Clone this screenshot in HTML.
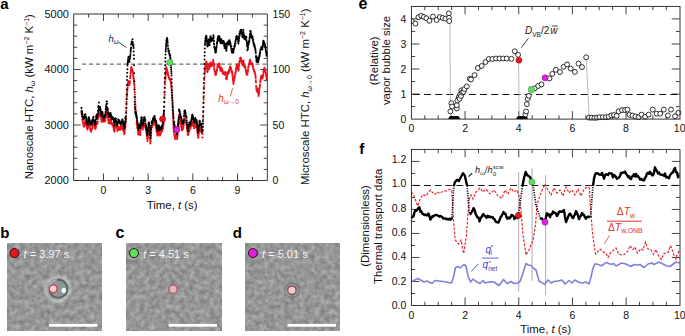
<!DOCTYPE html>
<html><head><meta charset="utf-8"><style>
html,body{margin:0;padding:0;background:#fff;}
svg{display:block;font-family:"Liberation Sans", sans-serif;}
</style></head><body>
<svg width="685" height="336" viewBox="0 0 685 336">
<rect width="685" height="336" fill="#fff"/>
<line x1="88.59" y1="180.5" x2="88.59" y2="176.9" stroke="#222" stroke-width="0.85" />
<line x1="88.59" y1="14" x2="88.59" y2="17.6" stroke="#222" stroke-width="0.85" />
<line x1="103.48" y1="180.5" x2="103.48" y2="173.5" stroke="#222" stroke-width="0.85" />
<line x1="103.48" y1="14" x2="103.48" y2="21" stroke="#222" stroke-width="0.85" />
<line x1="118.38" y1="180.5" x2="118.38" y2="176.9" stroke="#222" stroke-width="0.85" />
<line x1="118.38" y1="14" x2="118.38" y2="17.6" stroke="#222" stroke-width="0.85" />
<line x1="133.27" y1="180.5" x2="133.27" y2="176.9" stroke="#222" stroke-width="0.85" />
<line x1="133.27" y1="14" x2="133.27" y2="17.6" stroke="#222" stroke-width="0.85" />
<line x1="148.16" y1="180.5" x2="148.16" y2="173.5" stroke="#222" stroke-width="0.85" />
<line x1="148.16" y1="14" x2="148.16" y2="21" stroke="#222" stroke-width="0.85" />
<line x1="163.05" y1="180.5" x2="163.05" y2="176.9" stroke="#222" stroke-width="0.85" />
<line x1="163.05" y1="14" x2="163.05" y2="17.6" stroke="#222" stroke-width="0.85" />
<line x1="177.95" y1="180.5" x2="177.95" y2="176.9" stroke="#222" stroke-width="0.85" />
<line x1="177.95" y1="14" x2="177.95" y2="17.6" stroke="#222" stroke-width="0.85" />
<line x1="192.84" y1="180.5" x2="192.84" y2="173.5" stroke="#222" stroke-width="0.85" />
<line x1="192.84" y1="14" x2="192.84" y2="21" stroke="#222" stroke-width="0.85" />
<line x1="207.73" y1="180.5" x2="207.73" y2="176.9" stroke="#222" stroke-width="0.85" />
<line x1="207.73" y1="14" x2="207.73" y2="17.6" stroke="#222" stroke-width="0.85" />
<line x1="222.62" y1="180.5" x2="222.62" y2="176.9" stroke="#222" stroke-width="0.85" />
<line x1="222.62" y1="14" x2="222.62" y2="17.6" stroke="#222" stroke-width="0.85" />
<line x1="237.52" y1="180.5" x2="237.52" y2="173.5" stroke="#222" stroke-width="0.85" />
<line x1="237.52" y1="14" x2="237.52" y2="21" stroke="#222" stroke-width="0.85" />
<line x1="252.41" y1="180.5" x2="252.41" y2="176.9" stroke="#222" stroke-width="0.85" />
<line x1="252.41" y1="14" x2="252.41" y2="17.6" stroke="#222" stroke-width="0.85" />
<line x1="73.7" y1="169.4" x2="77.3" y2="169.4" stroke="#222" stroke-width="0.85" />
<line x1="73.7" y1="158.3" x2="77.3" y2="158.3" stroke="#222" stroke-width="0.85" />
<line x1="73.7" y1="147.2" x2="77.3" y2="147.2" stroke="#222" stroke-width="0.85" />
<line x1="73.7" y1="136.1" x2="77.3" y2="136.1" stroke="#222" stroke-width="0.85" />
<line x1="73.7" y1="125" x2="80.7" y2="125" stroke="#222" stroke-width="0.85" />
<line x1="73.7" y1="113.9" x2="77.3" y2="113.9" stroke="#222" stroke-width="0.85" />
<line x1="73.7" y1="102.8" x2="77.3" y2="102.8" stroke="#222" stroke-width="0.85" />
<line x1="73.7" y1="91.7" x2="77.3" y2="91.7" stroke="#222" stroke-width="0.85" />
<line x1="73.7" y1="80.6" x2="77.3" y2="80.6" stroke="#222" stroke-width="0.85" />
<line x1="73.7" y1="69.5" x2="80.7" y2="69.5" stroke="#222" stroke-width="0.85" />
<line x1="73.7" y1="58.4" x2="77.3" y2="58.4" stroke="#222" stroke-width="0.85" />
<line x1="73.7" y1="47.3" x2="77.3" y2="47.3" stroke="#222" stroke-width="0.85" />
<line x1="73.7" y1="36.2" x2="77.3" y2="36.2" stroke="#222" stroke-width="0.85" />
<line x1="73.7" y1="25.1" x2="77.3" y2="25.1" stroke="#222" stroke-width="0.85" />
<line x1="267.3" y1="169.4" x2="263.7" y2="169.4" stroke="#222" stroke-width="0.85" />
<line x1="267.3" y1="158.3" x2="263.7" y2="158.3" stroke="#222" stroke-width="0.85" />
<line x1="267.3" y1="147.2" x2="263.7" y2="147.2" stroke="#222" stroke-width="0.85" />
<line x1="267.3" y1="136.1" x2="263.7" y2="136.1" stroke="#222" stroke-width="0.85" />
<line x1="267.3" y1="125" x2="260.3" y2="125" stroke="#222" stroke-width="0.85" />
<line x1="267.3" y1="113.9" x2="263.7" y2="113.9" stroke="#222" stroke-width="0.85" />
<line x1="267.3" y1="102.8" x2="263.7" y2="102.8" stroke="#222" stroke-width="0.85" />
<line x1="267.3" y1="91.7" x2="263.7" y2="91.7" stroke="#222" stroke-width="0.85" />
<line x1="267.3" y1="80.6" x2="263.7" y2="80.6" stroke="#222" stroke-width="0.85" />
<line x1="267.3" y1="69.5" x2="260.3" y2="69.5" stroke="#222" stroke-width="0.85" />
<line x1="267.3" y1="58.4" x2="263.7" y2="58.4" stroke="#222" stroke-width="0.85" />
<line x1="267.3" y1="47.3" x2="263.7" y2="47.3" stroke="#222" stroke-width="0.85" />
<line x1="267.3" y1="36.2" x2="263.7" y2="36.2" stroke="#222" stroke-width="0.85" />
<line x1="267.3" y1="25.1" x2="263.7" y2="25.1" stroke="#222" stroke-width="0.85" />
<rect x="73.7" y="14.0" width="193.6" height="166.5" fill="none" stroke="#222" stroke-width="0.9"/>
<text x="68.9" y="184.3" font-size="10.5" text-anchor="end" fill="#111" textLength="24.4" lengthAdjust="spacingAndGlyphs">2000</text>
<text x="68.9" y="128.8" font-size="10.5" text-anchor="end" fill="#111" textLength="24.4" lengthAdjust="spacingAndGlyphs">3000</text>
<text x="68.9" y="73.3" font-size="10.5" text-anchor="end" fill="#111" textLength="24.4" lengthAdjust="spacingAndGlyphs">4000</text>
<text x="68.9" y="17.8" font-size="10.5" text-anchor="end" fill="#111" textLength="24.4" lengthAdjust="spacingAndGlyphs">5000</text>
<text x="272.6" y="184.3" font-size="10.5" text-anchor="start" fill="#111" >0</text>
<text x="272.6" y="128.8" font-size="10.5" text-anchor="start" fill="#111" >50</text>
<text x="272.6" y="73.3" font-size="10.5" text-anchor="start" fill="#111" >100</text>
<text x="272.6" y="17.8" font-size="10.5" text-anchor="start" fill="#111" >150</text>
<text x="103.48" y="193.6" font-size="10.5" text-anchor="middle" fill="#111" >0</text>
<text x="148.16" y="193.6" font-size="10.5" text-anchor="middle" fill="#111" >3</text>
<text x="192.84" y="193.6" font-size="10.5" text-anchor="middle" fill="#111" >6</text>
<text x="237.52" y="193.6" font-size="10.5" text-anchor="middle" fill="#111" >9</text>
<text x="172.2" y="209.4" font-size="11.4" text-anchor="middle" fill="#111" >Time, <tspan font-style="italic">t</tspan> (s)</text>
<text transform="translate(32.6,96.7) rotate(-90)" font-size="11.4" text-anchor="middle" fill="#111">Nanoscale HTC, <tspan font-style="italic">h</tspan><tspan font-size="7" dy="2.5">ω</tspan><tspan dy="-2.5"> (kW m</tspan><tspan font-size="7" dy="-4">−2</tspan><tspan dy="4"> K</tspan><tspan font-size="7" dy="-4">−1</tspan><tspan dy="4">)</tspan></text>
<text transform="translate(309,96.8) rotate(-90)" font-size="11.4" text-anchor="middle" fill="#111">Microscale HTC, <tspan font-style="italic">h</tspan><tspan font-size="7" dy="2.5">ω→0</tspan><tspan dy="-2.5"> (kW m</tspan><tspan font-size="7" dy="-4">−2</tspan><tspan dy="4"> K</tspan><tspan font-size="7" dy="-4">−1</tspan><tspan dy="4">)</tspan></text>
<line x1="82" y1="64.2" x2="267.3" y2="64.2" stroke="#707070" stroke-width="1.3" stroke-dasharray="4.2 2.74"/>
<path d="M81.4 112.09h0M81.52 113.46h0M81.64 114.09h0M81.76 113.63h0M81.88 116.16h0M82 116.9h0M82.12 117.08h0M82.24 117.32h0M82.36 119.78h0M82.48 119.82h0M82.6 120.76h0M82.72 121.47h0M82.84 121.03h0M82.96 122.55h0M83.08 122.63h0M83.2 123.45h0M83.32 124.16h0M83.44 125.04h0M83.56 126.36h0M83.68 126.03h0M83.8 126.12h0M83.92 126.31h0M84.04 126.72h0M84.16 125.58h0M84.28 125.42h0M84.4 125.29h0M84.52 124.26h0M84.64 123.82h0M84.76 122.81h0M84.88 123.66h0M85 122.54h0M85.12 121.58h0M85.24 120.84h0M85.36 121.93h0M85.48 121.07h0M85.6 121.26h0M85.72 121.93h0M85.84 122.37h0M85.96 123.47h0M86.08 123.05h0M86.2 124.76h0M86.32 123.41h0M86.44 124.81h0M86.56 124.37h0M86.68 126.71h0M86.8 126.09h0M86.92 126.92h0M87.04 128.17h0M87.16 129.04h0M87.28 128.28h0M87.4 129.41h0M87.52 128.43h0M87.64 129h0M87.76 128.5h0M87.88 128h0M88 127.34h0M88.12 126.76h0M88.24 125.78h0M88.36 125.79h0M88.48 125.99h0M88.6 123.72h0M88.72 124.6h0M88.84 124.22h0M88.96 124.56h0M89.08 123.49h0M89.2 123.77h0M89.32 123.35h0M89.44 124.65h0M89.56 124.92h0M89.68 125.49h0M89.8 126.54h0M89.92 126.9h0M90.04 126.84h0M90.16 128.86h0M90.28 129.4h0M90.4 129.86h0M90.52 130.84h0M90.64 131.11h0M90.76 129.86h0M90.88 130.19h0M91 131.72h0M91.12 131.54h0M91.24 130.14h0M91.36 129.77h0M91.48 129.97h0M91.6 129.91h0M91.72 129.11h0M91.84 129.83h0M91.96 128.57h0M92.08 128.14h0M92.2 128.95h0M92.32 127.52h0M92.44 127.33h0M92.56 127.02h0M92.68 126.4h0M92.8 124.99h0M92.92 124.49h0M93.04 123.31h0M93.16 124.41h0M93.28 123.39h0M93.4 121.98h0M93.52 122.91h0M93.64 123.61h0M93.76 123.74h0M93.88 124.82h0M94 124.82h0M94.12 123.94h0M94.24 124.48h0M94.36 124.04h0M94.48 125.48h0M94.6 126.07h0M94.72 128.25h0M94.84 127.33h0M94.96 126.66h0M95.08 128h0M95.2 128.87h0M95.32 128.44h0M95.44 128.77h0M95.56 128.57h0M95.68 128.49h0M95.8 127.41h0M95.92 126.14h0M96.04 126.31h0M96.16 124.68h0M96.28 123.88h0M96.4 122.51h0M96.52 122.97h0M96.64 123.84h0M96.76 122.49h0M96.88 123.42h0M97 123.9h0M97.12 123.22h0M97.24 123.57h0M97.36 122.74h0M97.48 123.67h0M97.6 122.76h0M97.72 121.46h0M97.84 119.28h0M97.96 118.3h0M98.08 118.12h0M98.2 117.15h0M98.32 114.91h0M98.44 114.37h0M98.56 116.8h0M98.68 115.5h0M98.8 114h0M98.92 112.5h0M99.04 108.09h0M99.16 113.1h0M99.28 114.3h0M99.4 115.5h0M99.52 113.44h0M99.64 114.72h0M99.76 114.19h0M99.88 113.23h0M100 115.22h0M100.12 114.9h0M100.24 114.6h0M100.36 116.23h0M100.48 115.59h0M100.6 115.6h0M100.72 116.61h0M100.84 116.43h0M100.96 117.25h0M101.08 118.74h0M101.2 118.97h0M101.32 119.84h0M101.44 121.62h0M101.56 121.08h0M101.68 120.98h0M101.8 120.76h0M101.92 120.67h0M102.04 121.12h0M102.16 119.95h0M102.28 120.64h0M102.4 118.46h0M102.52 119.21h0M102.64 118.87h0M102.76 119.83h0M102.88 120.69h0M103 121.58h0M103.12 120.65h0M103.24 121.39h0M103.36 121.51h0M103.48 121.26h0M103.6 120.9h0M103.72 121.58h0M103.84 120.43h0M103.96 121.46h0M104.08 121.25h0M104.2 120.64h0M104.32 120.23h0M104.44 119.78h0M104.56 121.46h0M104.68 119.25h0M104.8 120.72h0M104.92 120.14h0M105.04 119.55h0M105.16 119.07h0M105.28 120.38h0M105.4 120.79h0M105.52 118.47h0M105.64 117.83h0M105.76 117.61h0M105.88 116.15h0M106 116.12h0M106.12 113.48h0M106.24 112.67h0M106.36 110.12h0M106.48 111.27h0M106.6 114.83h0M106.72 113.83h0M106.84 112.83h0M106.96 107.78h0M107.08 109.81h0M107.2 113.17h0M107.32 114.17h0M107.44 115.17h0M107.56 115.5h0M107.68 115.59h0M107.8 117.14h0M107.92 117.72h0M108.04 118.11h0M108.16 119.23h0M108.28 120.08h0M108.4 120.4h0M108.52 122.44h0M108.64 121.54h0M108.76 123.45h0M108.88 123.41h0M109 122.87h0M109.12 122.55h0M109.24 122.96h0M109.36 123.47h0M109.48 123.33h0M109.6 122.56h0M109.72 122.48h0M109.84 121.05h0M109.96 121.02h0M110.08 119.47h0M110.2 120.41h0M110.32 119.59h0M110.44 119.09h0M110.56 120.46h0M110.68 120.6h0M110.8 118.92h0M110.92 121.06h0M111.04 120.59h0M111.16 122.52h0M111.28 123.8h0M111.4 122.62h0M111.52 123.13h0M111.64 123.09h0M111.76 123.61h0M111.88 123.94h0M112 124.48h0M112.12 123.27h0M112.24 124.97h0M112.36 123.62h0M112.48 124.65h0M112.6 125.55h0M112.72 125.61h0M112.84 124.94h0M112.96 125.41h0M113.08 125.76h0M113.2 126.14h0M113.32 127h0M113.44 125.85h0M113.56 127.6h0M113.68 128.38h0M113.8 129.04h0M113.92 129.63h0M114.04 130.7h0M114.16 130.51h0M114.28 131.17h0M114.4 131.43h0M114.52 131.38h0M114.64 128.38h0M114.76 129.5h0M114.88 127.79h0M115 126.99h0M115.12 125.89h0M115.24 124.64h0M115.36 124.79h0M115.48 124.44h0M115.6 125.28h0M115.72 124.22h0M115.84 126.09h0M115.96 125.52h0M116.08 125.33h0M116.2 125.18h0M116.32 125.25h0M116.44 125.19h0M116.56 125.89h0M116.68 126.76h0M116.8 127.18h0M116.92 126.97h0M117.04 128.19h0M117.16 128.32h0M117.28 129.46h0M117.4 130.98h0M117.52 129.97h0M117.64 129.13h0M117.76 128.07h0M117.88 127.88h0M118 127.38h0M118.12 128.49h0M118.24 127.26h0M118.36 127.41h0M118.48 127.09h0M118.6 127.81h0M118.72 128.89h0M118.84 127.94h0M118.96 128.44h0M119.08 128.45h0M119.2 129.49h0M119.32 128.33h0M119.44 128.21h0M119.56 127.96h0M119.68 127.84h0M119.8 128.86h0M119.92 130.02h0M120.04 127.77h0M120.16 128.84h0M120.28 128.31h0M120.4 127.4h0M120.52 127.88h0M120.64 127.89h0M120.76 127.6h0M120.88 129.15h0M121 126.83h0M121.12 128.22h0M121.24 128.2h0M121.36 127.67h0M121.48 127.85h0M121.6 127.9h0M121.72 127.11h0M121.84 127.1h0M121.96 127.11h0M122.08 125.31h0M122.2 127.25h0M122.32 127.57h0M122.44 126.91h0M122.56 127.62h0M122.68 126.84h0M122.8 128.3h0M122.92 128.57h0M123.04 129.29h0M123.16 130.61h0M123.28 129.93h0M123.4 130.73h0M123.52 130.04h0M123.64 131.47h0M123.76 132h0M123.88 131.91h0M124 132.28h0M124.12 134.22h0M124.24 132.75h0M124.36 133.21h0M124.48 132.78h0M124.6 132.96h0M124.72 132.47h0M124.84 130.39h0M124.96 128.73h0M125.08 127.44h0M125.2 126.65h0M125.32 123.78h0M125.44 124.09h0M125.56 124.11h0M125.68 126.7h0M125.8 122h0M125.92 119.12h0M126.04 116.24h0M126.16 113.36h0M126.28 110.48h0M126.4 107.6h0M126.52 104.72h0M126.64 101.84h0M126.76 98.96h0M126.88 96.89h0M127 95.23h0M127.12 93.57h0M127.24 91.9h0M127.36 90.24h0M127.48 88.58h0M127.6 87.74h0M127.72 85.84h0M127.84 85.23h0M127.96 84.57h0M128.08 82.88h0M128.2 82.06h0M128.32 82h0M128.44 81.4h0M128.56 81.35h0M128.68 82.62h0M128.8 82.62h0M128.92 83.79h0M129.04 83.6h0M129.16 83.91h0M129.28 84.65h0M129.4 84.96h0M129.52 83.86h0M129.64 83.1h0M129.76 82.87h0M129.88 81.89h0M130 81.36h0M130.12 78.32h0M130.24 77.85h0M130.36 76.58h0M130.48 75.52h0M130.6 73.66h0M130.72 72.14h0M130.84 71.47h0M130.96 69.75h0M131.08 68.09h0M131.2 68.99h0M131.32 68.18h0M131.44 66.99h0M131.56 68.28h0M131.68 67.79h0M131.8 69.36h0M131.92 69h0M132.04 69.1h0M132.16 69.73h0M132.28 69.78h0M132.4 70.64h0M132.52 70.83h0M132.64 71.76h0M132.76 72.42h0M132.88 71.57h0M133 74.84h0M133.12 74.66h0M133.24 76.96h0M133.36 78.51h0M133.48 76.35h0M133.6 77.48h0M133.72 78.66h0M133.84 79.83h0M133.96 81.01h0M134.08 82.18h0M134.2 83.36h0M134.32 84.54h0M134.44 85.71h0M134.56 87.47h0M134.68 89.82h0M134.8 92.17h0M134.92 94.52h0M135.04 96.87h0M135.16 99.22h0M135.28 101.6h0M135.4 104h0M135.52 106.4h0M135.64 108.8h0M135.76 110.56h0M135.88 111.69h0M136 112.81h0M136.12 113.94h0M136.24 115.06h0M136.36 116.19h0M136.48 117.31h0M136.6 121.92h0M136.72 124.14h0M136.84 124.63h0M136.96 124.8h0M137.08 125.63h0M137.2 127.39h0M137.32 128.08h0M137.44 128.31h0M137.56 128.38h0M137.68 128.84h0M137.8 130.13h0M137.92 130.08h0M138.04 132.11h0M138.16 132.89h0M138.28 134.52h0M138.4 133.97h0M138.52 132.77h0M138.64 132.32h0M138.76 130.56h0M138.88 132.07h0M139 132.12h0M139.12 132.6h0M139.24 132.18h0M139.36 131.96h0M139.48 132.18h0M139.6 133.21h0M139.72 134.46h0M139.84 133.72h0M139.96 134.73h0M140.08 133.87h0M140.2 134.94h0M140.32 134.02h0M140.44 132.8h0M140.56 130.4h0M140.68 129.99h0M140.8 128.51h0M140.92 127.47h0M141.04 126.07h0M141.16 125.27h0M141.28 123.57h0M141.4 123.22h0M141.52 122.4h0M141.64 122.81h0M141.76 123.65h0M141.88 124.18h0M142 125.67h0M142.12 125.75h0M142.24 126.82h0M142.36 127.14h0M142.48 126.8h0M142.6 128.56h0M142.72 127.75h0M142.84 129.15h0M142.96 129.36h0M143.08 127.76h0M143.2 127.47h0M143.32 127.01h0M143.44 126.32h0M143.56 126.01h0M143.68 127.07h0M143.8 126.4h0M143.92 126.25h0M144.04 125.25h0M144.16 125.17h0M144.28 124.02h0M144.4 123.93h0M144.52 123.86h0M144.64 123.86h0M144.76 123.87h0M144.88 123.82h0M145 124.89h0M145.12 125.33h0M145.24 125.39h0M145.36 125.5h0M145.48 126.87h0M145.6 128.68h0M145.72 127.66h0M145.84 128.7h0M145.96 129.37h0M146.08 128.37h0M146.2 130.79h0M146.32 131.11h0M146.44 133.24h0M146.56 133.27h0M146.68 133.96h0M146.8 135.31h0M146.92 136.55h0M147.04 137.12h0M147.16 138.43h0M147.28 138.66h0M147.4 140.35h0M147.52 140.89h0M147.64 140.66h0M147.76 138.68h0M147.88 136.92h0M148 135.98h0M148.12 134.38h0M148.24 133.27h0M148.36 131.43h0M148.48 129.86h0M148.6 129.57h0M148.72 129.01h0M148.84 128.56h0M148.96 127.99h0M149.08 127.93h0M149.2 128.19h0M149.32 130.1h0M149.44 130.45h0M149.56 133.06h0M149.68 134.37h0M149.8 134.71h0M149.92 137.49h0M150.04 138.95h0M150.16 139.84h0M150.28 142.13h0M150.4 143.47h0M150.52 141.2h0M150.64 140.72h0M150.76 138.55h0M150.88 136.72h0M151 135.21h0M151.12 132.4h0M151.24 130.65h0M151.36 128.69h0M151.48 127.83h0M151.6 127.76h0M151.72 126.62h0M151.84 126.54h0M151.96 127.18h0M152.08 126.63h0M152.2 126.83h0M152.32 125.39h0M152.44 125.85h0M152.56 125.53h0M152.68 125.42h0M152.8 124.6h0M152.92 125.05h0M153.04 124.01h0M153.16 123.61h0M153.28 123.16h0M153.4 123.13h0M153.52 122.3h0M153.64 123.09h0M153.76 122.53h0M153.88 122.18h0M154 121.95h0M154.12 122.08h0M154.24 122.23h0M154.36 122.1h0M154.48 121.24h0M154.6 121.9h0M154.72 122.02h0M154.84 123.28h0M154.96 123.09h0M155.08 122.43h0M155.2 125.05h0M155.32 124.89h0M155.44 124.65h0M155.56 125.66h0M155.68 125.67h0M155.8 127.88h0M155.92 127.34h0M156.04 126.57h0M156.16 128.41h0M156.28 128.42h0M156.4 130.38h0M156.52 129.49h0M156.64 129.67h0M156.76 131.94h0M156.88 132.34h0M157 132.81h0M157.12 132.29h0M157.24 134.35h0M157.36 135.61h0M157.48 134.01h0M157.6 135.19h0M157.72 133.23h0M157.84 134.06h0M157.96 132h0M158.08 130.71h0M158.2 131.09h0M158.32 130.46h0M158.44 129.69h0M158.56 130.73h0M158.68 130.25h0M158.8 129.74h0M158.92 132.29h0M159.04 131.53h0M159.16 132.87h0M159.28 134.94h0M159.4 135.29h0M159.52 135.15h0M159.64 135.39h0M159.76 135.1h0M159.88 135.19h0M160 135.55h0M160.12 134.32h0M160.24 134.63h0M160.36 134.42h0M160.48 133.59h0M160.6 133.95h0M160.72 132.7h0M160.84 133.54h0M160.96 132.81h0M161.08 132.19h0M161.2 131.01h0M161.32 131.52h0M161.44 130.69h0M161.56 131.38h0M161.68 130.7h0M161.8 130.09h0M161.92 130.95h0M162.04 130.71h0M162.16 129.96h0M162.28 131.05h0M162.4 130.2h0M162.52 129.86h0M162.64 129.79h0M162.76 128.93h0M162.88 128.79h0M163 128.62h0M163.12 126.68h0M163.24 125.15h0M163.36 123.63h0M163.48 123.41h0M163.6 124.21h0M163.72 122.2h0M163.84 120.4h0M163.96 118.6h0M164.08 115.12h0M164.2 110.8h0M164.32 106.48h0M164.44 102.16h0M164.56 98.29h0M164.68 94.86h0M164.8 91.43h0M164.92 88h0M165.04 84.57h0M165.16 81.14h0M165.28 79.16h0M165.4 77.91h0M165.52 76.65h0M165.64 75.4h0M165.76 74.15h0M165.88 72.89h0M166 71.64h0M166.12 70.38h0M166.24 67.03h0M166.36 68.28h0M166.48 68.61h0M166.6 68.71h0M166.72 69.94h0M166.84 69.92h0M166.96 69.71h0M167.08 70.47h0M167.2 72.68h0M167.32 70.52h0M167.44 71.59h0M167.56 72.37h0M167.68 73.02h0M167.8 72.52h0M167.92 73.69h0M168.04 74.6h0M168.16 75.62h0M168.28 75.38h0M168.4 75.69h0M168.52 76.99h0M168.64 77.41h0M168.76 77.32h0M168.88 77.09h0M169 78.06h0M169.12 78.15h0M169.24 78.87h0M169.36 77.89h0M169.48 78.95h0M169.6 79h0M169.72 78.66h0M169.84 79.63h0M169.96 79.62h0M170.08 79.44h0M170.2 80.02h0M170.32 79.02h0M170.44 80.09h0M170.56 81.24h0M170.68 81.44h0M170.8 82.4h0M170.92 83.36h0M171.04 84.32h0M171.16 85.28h0M171.28 86.24h0M171.4 87.2h0M171.52 88.34h0M171.64 90.4h0M171.76 92.46h0M171.88 94.51h0M172 96.57h0M172.12 98.63h0M172.24 101h0M172.36 104h0M172.48 107h0M172.6 110h0M172.72 113h0M172.84 115.74h0M172.96 117.97h0M173.08 120.2h0M173.2 122.43h0M173.32 124.66h0M173.44 126.89h0M173.56 128.51h0M173.68 129.54h0M173.8 130.57h0M173.92 131.6h0M174.04 132.63h0M174.16 134.71h0M174.28 134.94h0M174.4 135.37h0M174.52 135.61h0M174.64 136.33h0M174.76 135.75h0M174.88 137.32h0M175 138.9h0M175.12 137.49h0M175.24 137.93h0M175.36 138.76h0M175.48 138.47h0M175.6 137.68h0M175.72 135.75h0M175.84 136.43h0M175.96 134.82h0M176.08 134.45h0M176.2 134.68h0M176.32 133.65h0M176.44 134.5h0M176.56 136.86h0M176.68 136.39h0M176.8 137.32h0M176.92 137.3h0M177.04 138.96h0M177.16 138.48h0M177.28 137.34h0M177.4 136.2h0M177.52 135.06h0M177.64 133.92h0M177.76 132.78h0M177.88 131.64h0M178 130.5h0M178.12 129.36h0M178.24 128.22h0M178.36 127.08h0M178.48 125.94h0M178.6 124.8h0M178.72 123.66h0M178.84 122.52h0M178.96 116.74h0M179.08 115.76h0M179.2 115.04h0M179.32 114.59h0M179.44 115.87h0M179.56 115.32h0M179.68 116.78h0M179.8 118.49h0M179.92 118.89h0M180.04 119.35h0M180.16 121.02h0M180.28 120.76h0M180.4 122.56h0M180.52 122.39h0M180.64 122.71h0M180.76 124.02h0M180.88 123.68h0M181 125.94h0M181.12 124.98h0M181.24 127.05h0M181.36 125.73h0M181.48 127.64h0M181.6 127.27h0M181.72 127.83h0M181.84 129.37h0M181.96 130.33h0M182.08 129.04h0M182.2 130.03h0M182.32 128.35h0M182.44 128.52h0M182.56 128.51h0M182.68 128.48h0M182.8 126.89h0M182.92 128.93h0M183.04 128.29h0M183.16 127.68h0M183.28 127.32h0M183.4 126.91h0M183.52 125.5h0M183.64 125.48h0M183.76 123.77h0M183.88 122.13h0M184 121.32h0M184.12 121.45h0M184.24 119.4h0M184.36 118.33h0M184.48 119.3h0M184.6 118.92h0M184.72 118.83h0M184.84 118.6h0M184.96 118.2h0M185.08 118.9h0M185.2 119.96h0M185.32 120.75h0M185.44 121.66h0M185.56 122.18h0M185.68 122.38h0M185.8 122.77h0M185.92 122.44h0M186.04 122.15h0M186.16 123.52h0M186.28 123.66h0M186.4 124.24h0M186.52 124.79h0M186.64 125.05h0M186.76 126.01h0M186.88 127.53h0M187 128.57h0M187.12 129.02h0M187.24 130.63h0M187.36 131.12h0M187.48 131.34h0M187.6 132.58h0M187.72 134.29h0M187.84 133.36h0M187.96 135.07h0M188.08 135.04h0M188.2 134.59h0M188.32 132.67h0M188.44 133.92h0M188.56 132.46h0M188.68 131.92h0M188.8 131.62h0M188.92 131.8h0M189.04 131.15h0M189.16 130.69h0M189.28 131.25h0M189.4 129.41h0M189.52 128.84h0M189.64 129.64h0M189.76 129.29h0M189.88 129.22h0M190 127.62h0M190.12 128.61h0M190.24 127.96h0M190.36 128.42h0M190.48 126.08h0M190.6 126.3h0M190.72 125.82h0M190.84 124.84h0M190.96 125.18h0M191.08 126.31h0M191.2 125.48h0M191.32 125.46h0M191.44 126.4h0M191.56 126.15h0M191.68 125.83h0M191.8 124.45h0M191.92 124.53h0M192.04 124.62h0M192.16 123.04h0M192.28 122.42h0M192.4 122.81h0M192.52 123.5h0M192.64 122.13h0M192.76 121.51h0M192.88 122.45h0M193 122.97h0M193.12 124.17h0M193.24 125.23h0M193.36 125.24h0M193.48 125.19h0M193.6 125.9h0M193.72 125.42h0M193.84 126.17h0M193.96 126.01h0M194.08 128.19h0M194.2 127.27h0M194.32 126.47h0M194.44 126.44h0M194.56 126.67h0M194.68 125.94h0M194.8 126.48h0M194.92 126.47h0M195.04 127.19h0M195.16 125.65h0M195.28 124.69h0M195.4 123.61h0M195.52 123.75h0M195.64 124.46h0M195.76 124.41h0M195.88 125.32h0M196 124.39h0M196.12 125.54h0M196.24 125.19h0M196.36 125.17h0M196.48 123.57h0M196.6 124.47h0M196.72 126.26h0M196.84 127.22h0M196.96 128.18h0M197.08 129.14h0M197.2 130.1h0M197.32 131.06h0M197.44 132.02h0M197.56 132.98h0M197.68 133.94h0M197.8 134.9h0M197.92 136.01h0M198.04 137.5h0M198.16 137.17h0M198.28 136.29h0M198.4 137.63h0M198.52 135.62h0M198.64 134.34h0M198.76 134.09h0M198.88 132.69h0M199 130.89h0M199.12 130.13h0M199.24 128.03h0M199.36 127.16h0M199.48 125.2h0M199.6 127.34h0M199.72 125.75h0M199.84 127.82h0M199.96 127.44h0M200.08 127.87h0M200.2 128.86h0M200.32 129.66h0M200.44 130.33h0M200.56 131.36h0M200.68 130.84h0M200.8 131.49h0M200.92 130.93h0M201.04 131.93h0M201.16 131.55h0M201.28 131.15h0M201.4 131.33h0M201.52 131.68h0M201.64 132.17h0M201.76 132.64h0M201.88 132.43h0M202 132.62h0M202.12 133.85h0M202.24 132.73h0M202.36 133.94h0M202.48 137.52h0M202.6 134h0M202.72 130.4h0M202.84 126.8h0M202.96 123.2h0M203.08 119.28h0M203.2 115.2h0M203.32 111.12h0M203.44 107.04h0M203.56 103.2h0M203.68 99.6h0M203.8 96h0M203.92 92.4h0M204.04 89h0M204.16 86h0M204.28 83h0M204.4 80h0M204.52 77h0M204.64 74.53h0M204.76 73.13h0M204.88 71.73h0M205 70.33h0M205.12 68.93h0M205.24 66.9h0M205.36 68.03h0M205.48 66.97h0M205.6 65.99h0M205.72 65.37h0M205.84 63.85h0M205.96 63.8h0M206.08 62.09h0M206.2 62.56h0M206.32 61.45h0M206.44 62.09h0M206.56 62.55h0M206.68 63.86h0M206.8 64.77h0M206.92 67.1h0M207.04 68.61h0M207.16 70.61h0M207.28 71.41h0M207.4 72.08h0M207.52 71.24h0M207.64 70.84h0M207.76 69.83h0M207.88 69.97h0M208 68.9h0M208.12 66.51h0M208.24 65.29h0M208.36 65.2h0M208.48 64.36h0M208.6 64.38h0M208.72 65.58h0M208.84 65.11h0M208.96 65.89h0M209.08 66.5h0M209.2 66.32h0M209.32 68.73h0M209.44 67.76h0M209.56 67.52h0M209.68 66.79h0M209.8 67.05h0M209.92 65.96h0M210.04 65.44h0M210.16 63.83h0M210.28 64.04h0M210.4 62.47h0M210.52 63.85h0M210.64 64.2h0M210.76 64.28h0M210.88 65.83h0M211 65.24h0M211.12 65.59h0M211.24 65.63h0M211.36 65.74h0M211.48 66.28h0M211.6 65.96h0M211.72 64.13h0M211.84 65.14h0M211.96 64.42h0M212.08 64.56h0M212.2 64.26h0M212.32 63.22h0M212.44 63.15h0M212.56 64.61h0M212.68 63.33h0M212.8 61.96h0M212.92 62.66h0M213.04 61.87h0M213.16 60.61h0M213.28 59.98h0M213.4 60.02h0M213.52 62.24h0M213.64 63.13h0M213.76 64.1h0M213.88 65.51h0M214 66.79h0M214.12 66.44h0M214.24 68.79h0M214.36 69.74h0M214.48 70.21h0M214.6 71.05h0M214.72 71.73h0M214.84 72.06h0M214.96 71.78h0M215.08 72.78h0M215.2 74.71h0M215.32 73.32h0M215.44 73.33h0M215.56 74.53h0M215.68 74.74h0M215.8 74.68h0M215.92 73.75h0M216.04 74.8h0M216.16 73.03h0M216.28 72.11h0M216.4 71.72h0M216.52 71.74h0M216.64 71.85h0M216.76 71.2h0M216.88 70.21h0M217 70.18h0M217.12 69.08h0M217.24 68.97h0M217.36 66.99h0M217.48 66.36h0M217.6 67.27h0M217.72 65.48h0M217.84 65.64h0M217.96 65.4h0M218.08 65.16h0M218.2 65.29h0M218.32 66.51h0M218.44 64.16h0M218.56 66.01h0M218.68 66.67h0M218.8 65.11h0M218.92 64.89h0M219.04 65.14h0M219.16 65.61h0M219.28 63.6h0M219.4 64.17h0M219.52 64.75h0M219.64 65.95h0M219.76 66.45h0M219.88 67.5h0M220 67.59h0M220.12 68.83h0M220.24 69.35h0M220.36 70.31h0M220.48 70.77h0M220.6 70.42h0M220.72 69.43h0M220.84 70.71h0M220.96 69.31h0M221.08 68.19h0M221.2 69.31h0M221.32 67.83h0M221.44 68.45h0M221.56 68.46h0M221.68 68.94h0M221.8 69.22h0M221.92 69.16h0M222.04 69.98h0M222.16 71.74h0M222.28 69.74h0M222.4 71.69h0M222.52 72.08h0M222.64 71.35h0M222.76 71.32h0M222.88 73.6h0M223 72.25h0M223.12 73.84h0M223.24 72.82h0M223.36 72.44h0M223.48 72.78h0M223.6 73.07h0M223.72 73.59h0M223.84 73.34h0M223.96 73.37h0M224.08 73.46h0M224.2 74.18h0M224.32 73.88h0M224.44 72.76h0M224.56 72.84h0M224.68 73.29h0M224.8 72.59h0M224.92 72.6h0M225.04 72.12h0M225.16 72.41h0M225.28 72.69h0M225.4 72.9h0M225.52 73.21h0M225.64 75.36h0M225.76 75.14h0M225.88 78.33h0M226 78.24h0M226.12 78.57h0M226.24 78.61h0M226.36 77.85h0M226.48 79.23h0M226.6 78.78h0M226.72 79.17h0M226.84 76.53h0M226.96 77.85h0M227.08 75.7h0M227.2 75.32h0M227.32 72.39h0M227.44 73.31h0M227.56 72.88h0M227.68 73.36h0M227.8 72.86h0M227.92 71.98h0M228.04 73.18h0M228.16 73.14h0M228.28 73.2h0M228.4 73.7h0M228.52 73.36h0M228.64 72.29h0M228.76 71.1h0M228.88 70.68h0M229 71.93h0M229.12 71.15h0M229.24 70.39h0M229.36 69.68h0M229.48 69.61h0M229.6 69.29h0M229.72 68.55h0M229.84 67.8h0M229.96 68.99h0M230.08 67.59h0M230.2 67h0M230.32 66.48h0M230.44 66.85h0M230.56 67.97h0M230.68 68.25h0M230.8 67.92h0M230.92 68.38h0M231.04 68.67h0M231.16 68.7h0M231.28 70.65h0M231.4 70.6h0M231.52 72.18h0M231.64 70.55h0M231.76 71.24h0M231.88 72.16h0M232 71.8h0M232.12 72.02h0M232.24 73.14h0M232.36 74.51h0M232.48 75.57h0M232.6 76.31h0M232.72 77.98h0M232.84 78.97h0M232.96 79.57h0M233.08 80.4h0M233.2 81.23h0M233.32 82.72h0M233.44 83.84h0M233.56 83.29h0M233.68 82.76h0M233.8 81.53h0M233.92 80.11h0M234.04 79.6h0M234.16 79.89h0M234.28 78.94h0M234.4 78.86h0M234.52 77.33h0M234.64 77.2h0M234.76 76.86h0M234.88 76.04h0M235 74.46h0M235.12 74.28h0M235.24 74.04h0M235.36 72.94h0M235.48 73.13h0M235.6 72.65h0M235.72 70.94h0M235.84 71.61h0M235.96 69.44h0M236.08 68.69h0M236.2 67.87h0M236.32 66.79h0M236.44 66.85h0M236.56 66.35h0M236.68 67.08h0M236.8 66.19h0M236.92 65.89h0M237.04 65.27h0M237.16 64.56h0M237.28 65.36h0M237.4 64.91h0M237.52 66.61h0M237.64 66.64h0M237.76 68.27h0M237.88 68.33h0M238 69.01h0M238.12 69.26h0M238.24 69.87h0M238.36 70.75h0M238.48 70.49h0M238.6 68.56h0M238.72 68.34h0M238.84 68.69h0M238.96 66.14h0M239.08 64.93h0M239.2 63.48h0M239.32 61.83h0M239.44 62.44h0M239.56 61.2h0M239.68 60.79h0M239.8 61.16h0M239.92 61h0M240.04 58.43h0M240.16 59.12h0M240.28 58.39h0M240.4 57.79h0M240.52 57.94h0M240.64 57.75h0M240.76 58.82h0M240.88 58.34h0M241 58.29h0M241.12 59.71h0M241.24 60.38h0M241.36 60.87h0M241.48 61.35h0M241.6 62.74h0M241.72 62.51h0M241.84 62.68h0M241.96 62.74h0M242.08 63.58h0M242.2 63.68h0M242.32 64.9h0M242.44 65.08h0M242.56 62.94h0M242.68 63.7h0M242.8 63.74h0M242.92 63.1h0M243.04 62.06h0M243.16 62.97h0M243.28 61.36h0M243.4 60.62h0M243.52 61.62h0M243.64 63.17h0M243.76 64.68h0M243.88 65.71h0M244 65.67h0M244.12 65.29h0M244.24 66.07h0M244.36 66.38h0M244.48 66.91h0M244.6 65.87h0M244.72 66.92h0M244.84 67.15h0M244.96 66.59h0M245.08 67.2h0M245.2 66.76h0M245.32 67.18h0M245.44 68.32h0M245.56 69.89h0M245.68 70.31h0M245.8 69.92h0M245.92 71.41h0M246.04 70.99h0M246.16 72.59h0M246.28 72.47h0M246.4 72.4h0M246.52 74.56h0M246.64 73.68h0M246.76 73.65h0M246.88 73.4h0M247 74.49h0M247.12 74.37h0M247.24 74.42h0M247.36 74.28h0M247.48 74.74h0M247.6 72.63h0M247.72 71.45h0M247.84 71.67h0M247.96 70.88h0M248.08 69.38h0M248.2 67.32h0M248.32 67.19h0M248.44 67.19h0M248.56 66.29h0M248.68 66.68h0M248.8 64.39h0M248.92 65.08h0M249.04 63.75h0M249.16 64.52h0M249.28 63.41h0M249.4 63.81h0M249.52 62.23h0M249.64 61.21h0M249.76 60.82h0M249.88 60.55h0M250 59.73h0M250.12 61.35h0M250.24 61.72h0M250.36 61.36h0M250.48 60.96h0M250.6 61.95h0M250.72 62.04h0M250.84 63.76h0M250.96 63.51h0M251.08 64.05h0M251.2 63.95h0M251.32 63.42h0M251.44 64.36h0M251.56 63.87h0M251.68 64.47h0M251.8 64.15h0M251.92 63.48h0M252.04 63.67h0M252.16 64.92h0M252.28 63.48h0M252.4 63.59h0M252.52 64.53h0M252.64 64.78h0M252.76 65.48h0M252.88 66.58h0M253 67.84h0M253.12 66.43h0M253.24 68.19h0M253.36 68.93h0M253.48 69.26h0M253.6 69.45h0M253.72 69.62h0M253.84 70.68h0M253.96 70.06h0M254.08 70.52h0M254.2 70.86h0M254.32 71.19h0M254.44 71.36h0M254.56 72.58h0M254.68 72.5h0M254.8 73.14h0M254.92 73.53h0M255.04 73.48h0M255.16 74.11h0M255.28 74.5h0M255.4 75.77h0M255.52 76.62h0M255.64 77.88h0M255.76 80.29h0M255.88 82.08h0M256 82.33h0M256.12 86.08h0M256.24 86.76h0M256.36 88.35h0M256.48 89.77h0M256.6 89.41h0M256.72 89.25h0M256.84 91.17h0M256.96 89.2h0M257.08 89.54h0M257.2 89.86h0M257.32 88.46h0M257.44 89.08h0M257.56 90.05h0M257.68 92h0M257.8 90.76h0M257.92 92.01h0M258.04 93.17h0M258.16 93.57h0M258.28 93.74h0M258.4 95.74h0M258.52 95.97h0M258.64 95.28h0M258.76 94.81h0M258.88 93.85h0M259 92.59h0M259.12 91.64h0M259.24 89.91h0M259.36 89.6h0M259.48 88.9h0M259.6 87.52h0M259.72 86.78h0M259.84 85.19h0M259.96 85.57h0M260.08 84.91h0M260.2 82.35h0M260.32 81.78h0M260.44 80.4h0M260.56 80.38h0M260.68 78.96h0M260.8 77.82h0M260.92 77.08h0M261.04 76.87h0M261.16 76.07h0M261.28 76.96h0M261.4 76h0M261.52 77.02h0M261.64 77.04h0M261.76 77.89h0M261.88 77.49h0M262 78.39h0M262.12 77.47h0M262.24 78.54h0M262.36 78.2h0M262.48 78.15h0M262.6 77.56h0M262.72 77.56h0M262.84 75.26h0M262.96 76.15h0M263.08 74.25h0M263.2 74.91h0M263.32 72.05h0M263.44 71.82h0M263.56 70.9h0M263.68 72.38h0M263.8 70.11h0M263.92 70.43h0M264.04 69.53h0M264.16 68.26h0M264.28 68.62h0M264.4 68.71h0M264.52 67.9h0M264.64 69.33h0M264.76 69.1h0M264.88 69.66h0M265 69.78h0M265.12 70.56h0M265.24 71.84h0M265.36 71.27h0M265.48 71.73h0M265.6 71.91h0M265.72 72.5h0M265.84 74.5h0M265.96 73.62h0M266.08 74.59h0M266.2 76.03h0M266.32 76.79h0M266.44 78.99h0M266.56 76.81h0M266.68 78.86h0M266.8 79.48h0M266.92 78.79h0" stroke="#e8141c" stroke-width="2.1" stroke-linecap="round" fill="none"/>
<path d="M81.4 108.01h0M81.52 108.06h0M81.64 110.63h0M81.76 111.35h0M81.88 111.17h0M82 112.43h0M82.12 113.32h0M82.24 114.07h0M82.36 114.85h0M82.48 114.45h0M82.6 116.44h0M82.72 114.59h0M82.84 116.64h0M82.96 116.71h0M83.08 117.38h0M83.2 118.55h0M83.32 118.6h0M83.44 116.99h0M83.56 116.92h0M83.68 118.89h0M83.8 117.4h0M83.92 118.17h0M84.04 118.81h0M84.16 116.8h0M84.28 116.39h0M84.4 118.25h0M84.52 117.67h0M84.64 117.04h0M84.76 116.86h0M84.88 115.73h0M85 114.8h0M85.12 115.75h0M85.24 114.98h0M85.36 114.32h0M85.48 116.32h0M85.6 116.35h0M85.72 117.21h0M85.84 116.58h0M85.96 117.33h0M86.08 117.54h0M86.2 118.11h0M86.32 119.46h0M86.44 119.19h0M86.56 120.73h0M86.68 121.41h0M86.8 123.45h0M86.92 121.41h0M87.04 123.92h0M87.16 123.83h0M87.28 124.59h0M87.4 124.13h0M87.52 124.42h0M87.64 124.88h0M87.76 123.71h0M87.88 123.34h0M88 122.54h0M88.12 122.91h0M88.24 121.19h0M88.36 118.66h0M88.48 119.52h0M88.6 118.37h0M88.72 117.21h0M88.84 119.26h0M88.96 120.62h0M89.08 119.46h0M89.2 118.36h0M89.32 118.41h0M89.44 120.1h0M89.56 119.77h0M89.68 120.23h0M89.8 120.69h0M89.92 121.31h0M90.04 122.47h0M90.16 122.82h0M90.28 123.09h0M90.4 122.63h0M90.52 123.95h0M90.64 123.06h0M90.76 124.55h0M90.88 122.73h0M91 123.7h0M91.12 123.64h0M91.24 122.41h0M91.36 124.68h0M91.48 124.27h0M91.6 122.51h0M91.72 123.28h0M91.84 122.75h0M91.96 120.14h0M92.08 122.22h0M92.2 121.75h0M92.32 121.65h0M92.44 120.4h0M92.56 120.53h0M92.68 120.09h0M92.8 120.66h0M92.92 119.46h0M93.04 118.74h0M93.16 119.66h0M93.28 117.69h0M93.4 117.51h0M93.52 116.81h0M93.64 119.95h0M93.76 119.9h0M93.88 120.3h0M94 120.54h0M94.12 120.53h0M94.24 121.05h0M94.36 121.11h0M94.48 121.54h0M94.6 122.11h0M94.72 123.65h0M94.84 123.25h0M94.96 123.13h0M95.08 122.91h0M95.2 122.99h0M95.32 124.89h0M95.44 123.78h0M95.56 122.49h0M95.68 121.21h0M95.8 119.66h0M95.92 119.55h0M96.04 119.36h0M96.16 117.4h0M96.28 116.59h0M96.4 115.66h0M96.52 116.08h0M96.64 114.78h0M96.76 115.93h0M96.88 115.5h0M97 116.95h0M97.12 115.69h0M97.24 116.84h0M97.36 117.66h0M97.48 115.65h0M97.6 114.59h0M97.72 114.4h0M97.84 113.2h0M97.96 110.95h0M98.08 110.66h0M98.2 110.45h0M98.32 107.18h0M98.44 106.03h0M98.56 111.3h0M98.68 110h0M98.8 108.5h0M98.92 107h0M99.04 102.59h0M99.16 107.6h0M99.28 108.8h0M99.4 110h0M99.52 106.95h0M99.64 107.45h0M99.76 108.84h0M99.88 107.39h0M100 107.34h0M100.12 107h0M100.24 108.38h0M100.36 109.8h0M100.48 110.21h0M100.6 109.55h0M100.72 110.43h0M100.84 111.53h0M100.96 112.99h0M101.08 113.4h0M101.2 114.56h0M101.32 115.44h0M101.44 115.44h0M101.56 115.45h0M101.68 115.45h0M101.8 115.03h0M101.92 115.3h0M102.04 116.12h0M102.16 114.67h0M102.28 113.82h0M102.4 112h0M102.52 114.22h0M102.64 112.91h0M102.76 113.9h0M102.88 116.27h0M103 116.71h0M103.12 116.59h0M103.24 115.9h0M103.36 117.53h0M103.48 117.43h0M103.6 118.4h0M103.72 119.63h0M103.84 117.92h0M103.96 117.05h0M104.08 116.58h0M104.2 117.26h0M104.32 116.96h0M104.44 115.95h0M104.56 116.67h0M104.68 115.37h0M104.8 116.88h0M104.92 116.55h0M105.04 116.28h0M105.16 114.74h0M105.28 115.24h0M105.4 114.43h0M105.52 113.11h0M105.64 111.72h0M105.76 109.52h0M105.88 107.98h0M106 108.34h0M106.12 106.13h0M106.24 105.02h0M106.36 104.22h0M106.48 101.4h0M106.6 109.33h0M106.72 108.33h0M106.84 107.33h0M106.96 101.52h0M107.08 103.74h0M107.2 107.67h0M107.32 108.67h0M107.44 109.67h0M107.56 109.84h0M107.68 110.35h0M107.8 109.05h0M107.92 112.24h0M108.04 112.23h0M108.16 113.41h0M108.28 112.62h0M108.4 113.27h0M108.52 113.05h0M108.64 116.33h0M108.76 114.5h0M108.88 116.25h0M109 114.8h0M109.12 115.8h0M109.24 114.67h0M109.36 116.04h0M109.48 117.02h0M109.6 114.88h0M109.72 116.38h0M109.84 115.45h0M109.96 113.99h0M110.08 113.99h0M110.2 113.55h0M110.32 113.41h0M110.44 112.9h0M110.56 113.23h0M110.68 114.21h0M110.8 114.2h0M110.92 114.55h0M111.04 116.11h0M111.16 117.42h0M111.28 116.05h0M111.4 117.84h0M111.52 117.29h0M111.64 116.99h0M111.76 118.42h0M111.88 117.29h0M112 118.88h0M112.12 117.02h0M112.24 117.92h0M112.36 117.4h0M112.48 117.12h0M112.6 118.41h0M112.72 118.05h0M112.84 118.88h0M112.96 118.58h0M113.08 117.85h0M113.2 118.67h0M113.32 118.83h0M113.44 119.81h0M113.56 119h0M113.68 120.39h0M113.8 119.73h0M113.92 122.31h0M114.04 121.62h0M114.16 121.72h0M114.28 123.81h0M114.4 125.43h0M114.52 122.58h0M114.64 122.18h0M114.76 121.71h0M114.88 120.65h0M115 121.11h0M115.12 119.5h0M115.24 118.92h0M115.36 119.3h0M115.48 118.25h0M115.6 119.56h0M115.72 118.79h0M115.84 118.96h0M115.96 118.82h0M116.08 122.13h0M116.2 120.74h0M116.32 121.55h0M116.44 121.71h0M116.56 122.27h0M116.68 122.6h0M116.8 124.5h0M116.92 122.55h0M117.04 122.54h0M117.16 123.36h0M117.28 123.48h0M117.4 125.53h0M117.52 125.05h0M117.64 123.09h0M117.76 122.22h0M117.88 122.51h0M118 123.37h0M118.12 119.47h0M118.24 121.62h0M118.36 119.8h0M118.48 121.46h0M118.6 119.97h0M118.72 120.82h0M118.84 120.05h0M118.96 120.69h0M119.08 122.79h0M119.2 122.55h0M119.32 121.78h0M119.44 121.58h0M119.56 120.88h0M119.68 122.2h0M119.8 122.6h0M119.92 122.67h0M120.04 122.78h0M120.16 122.08h0M120.28 123.04h0M120.4 123.17h0M120.52 124.25h0M120.64 124.72h0M120.76 123.13h0M120.88 122.64h0M121 123.21h0M121.12 122.82h0M121.24 122.75h0M121.36 123.34h0M121.48 122.28h0M121.6 123.16h0M121.72 122.16h0M121.84 122.01h0M121.96 121.23h0M122.08 120.36h0M122.2 119.75h0M122.32 119.88h0M122.44 119.53h0M122.56 120.71h0M122.68 121.08h0M122.8 120.56h0M122.92 122.26h0M123.04 121.69h0M123.16 122.83h0M123.28 123.65h0M123.4 122.78h0M123.52 125.07h0M123.64 125.67h0M123.76 125.97h0M123.88 126.31h0M124 126.91h0M124.12 126.98h0M124.24 128.1h0M124.36 128.42h0M124.48 128.42h0M124.6 126.33h0M124.72 126.42h0M124.84 125.29h0M124.96 124.01h0M125.08 122.27h0M125.2 121.35h0M125.32 117.86h0M125.44 118.53h0M125.56 118.68h0M125.68 121.2h0M125.8 120h0M125.92 118.8h0M126.04 116.56h0M126.16 112.24h0M126.28 107.92h0M126.4 103.6h0M126.52 99.2h0M126.64 94.4h0M126.76 89.6h0M126.88 84.8h0M127 80h0M127.12 76.4h0M127.24 72.8h0M127.36 69.2h0M127.48 65.6h0M127.6 64.2h0M127.72 63.24h0M127.84 62.28h0M127.96 61.32h0M128.08 60.36h0M128.2 59.4h0M128.32 58.44h0M128.44 57.16h0M128.56 57.46h0M128.68 56.87h0M128.8 57.54h0M128.92 57.49h0M129.04 58.72h0M129.16 60.39h0M129.28 61.14h0M129.4 61.69h0M129.52 61.66h0M129.64 59.41h0M129.76 59.15h0M129.88 58.94h0M130 57.99h0M130.12 57.55h0M130.24 56.17h0M130.36 54.77h0M130.48 54.29h0M130.6 51.88h0M130.72 50.02h0M130.84 50.44h0M130.96 48.58h0M131.08 47.52h0M131.2 44.56h0M131.32 44.27h0M131.44 43.15h0M131.56 42.76h0M131.68 41.42h0M131.8 42.72h0M131.92 43.48h0M132.04 42.84h0M132.16 41.82h0M132.28 42.06h0M132.4 42.44h0M132.52 39.3h0M132.64 42.08h0M132.76 43.29h0M132.88 44.08h0M133 45.56h0M133.12 45.78h0M133.24 45.8h0M133.36 46.46h0M133.48 44.92h0M133.6 48h0M133.72 51.6h0M133.84 55.2h0M133.96 58.8h0M134.08 65.33h0M134.2 73.33h0M134.32 81.33h0M134.44 89.33h0M134.56 97.33h0M134.68 101.84h0M134.8 104.6h0M134.92 107.36h0M135.04 109.36h0M135.16 112h0M135.28 113.03h0M135.4 111.82h0M135.52 112.5h0M135.64 113.7h0M135.76 113.11h0M135.88 112.62h0M136 114.88h0M136.12 114.78h0M136.24 115.11h0M136.36 114.67h0M136.48 116.59h0M136.6 116.48h0M136.72 118.46h0M136.84 117.76h0M136.96 118.71h0M137.08 120.33h0M137.2 120.3h0M137.32 122.11h0M137.44 122.48h0M137.56 122.25h0M137.68 123.76h0M137.8 124.14h0M137.92 125.87h0M138.04 125.35h0M138.16 126.22h0M138.28 128.26h0M138.4 129.79h0M138.52 129.21h0M138.64 127.27h0M138.76 127h0M138.88 127.66h0M139 125.94h0M139.12 124.87h0M139.24 125.35h0M139.36 125.23h0M139.48 124.58h0M139.6 124.68h0M139.72 125.61h0M139.84 128.05h0M139.96 127.67h0M140.08 128.08h0M140.2 127.86h0M140.32 127.68h0M140.44 126.22h0M140.56 125.79h0M140.68 123.58h0M140.8 122.91h0M140.92 121.28h0M141.04 121.91h0M141.16 119.89h0M141.28 118.22h0M141.4 117.44h0M141.52 117.16h0M141.64 118.71h0M141.76 117.69h0M141.88 118.94h0M142 120.28h0M142.12 123.42h0M142.24 122.97h0M142.36 122.93h0M142.48 123.91h0M142.6 125.07h0M142.72 123.31h0M142.84 123.28h0M142.96 124.63h0M143.08 123.41h0M143.2 122.55h0M143.32 120.61h0M143.44 121.8h0M143.56 121.37h0M143.68 120.19h0M143.8 120.02h0M143.92 117.59h0M144.04 119.46h0M144.16 118.53h0M144.28 118.77h0M144.4 118.71h0M144.52 117.69h0M144.64 117.17h0M144.76 119.38h0M144.88 119.06h0M145 119.95h0M145.12 120.29h0M145.24 121.07h0M145.36 120.06h0M145.48 123.62h0M145.6 123.69h0M145.72 125.21h0M145.84 126.74h0M145.96 126.01h0M146.08 125.5h0M146.2 127.22h0M146.32 127.97h0M146.44 129.42h0M146.56 130.55h0M146.68 129.56h0M146.8 132.11h0M146.92 131.29h0M147.04 133.41h0M147.16 133.76h0M147.28 134.26h0M147.4 135.13h0M147.52 134.2h0M147.64 132.7h0M147.76 130.4h0M147.88 130.28h0M148 130.33h0M148.12 129h0M148.24 127.03h0M148.36 125.09h0M148.48 123.31h0M148.6 124.71h0M148.72 123.22h0M148.84 122.92h0M148.96 122.44h0M149.08 123.35h0M149.2 123.96h0M149.32 125.28h0M149.44 125.64h0M149.56 127.6h0M149.68 131.11h0M149.8 130.62h0M149.92 131.87h0M150.04 133.88h0M150.16 135.41h0M150.28 135.34h0M150.4 137.46h0M150.52 137.9h0M150.64 135.53h0M150.76 133.57h0M150.88 132.86h0M151 129.23h0M151.12 127.99h0M151.24 125.65h0M151.36 125.41h0M151.48 121.88h0M151.6 122.65h0M151.72 122.52h0M151.84 123.22h0M151.96 122.93h0M152.08 123.48h0M152.2 121.11h0M152.32 122.97h0M152.44 121.99h0M152.56 121.25h0M152.68 121.77h0M152.8 120.16h0M152.92 118.79h0M153.04 119.71h0M153.16 118.36h0M153.28 118.6h0M153.4 118.97h0M153.52 118.85h0M153.64 119.77h0M153.76 118.24h0M153.88 117.07h0M154 117.58h0M154.12 117.35h0M154.24 117.01h0M154.36 118.23h0M154.48 116.76h0M154.6 115.94h0M154.72 118.53h0M154.84 118.34h0M154.96 119.17h0M155.08 119.42h0M155.2 120.29h0M155.32 120.27h0M155.44 121.63h0M155.56 121.26h0M155.68 121.52h0M155.8 121.81h0M155.92 120.6h0M156.04 121.97h0M156.16 122.32h0M156.28 123.13h0M156.4 122.31h0M156.52 125.51h0M156.64 125.1h0M156.76 124.85h0M156.88 125.26h0M157 127.22h0M157.12 128.18h0M157.24 128.48h0M157.36 129.94h0M157.48 130.2h0M157.6 130.79h0M157.72 129.15h0M157.84 129.09h0M157.96 129.29h0M158.08 129.95h0M158.2 126.47h0M158.32 126.29h0M158.44 125.58h0M158.56 126.9h0M158.68 125.38h0M158.8 125.93h0M158.92 126.32h0M159.04 125.99h0M159.16 127.27h0M159.28 128.92h0M159.4 128.88h0M159.52 129.23h0M159.64 129.89h0M159.76 130.17h0M159.88 129.73h0M160 128.29h0M160.12 129.17h0M160.24 130.01h0M160.36 129.65h0M160.48 129.5h0M160.6 128.65h0M160.72 129.5h0M160.84 128.16h0M160.96 127.32h0M161.08 127.25h0M161.2 128.68h0M161.32 127.33h0M161.44 127.78h0M161.56 126.31h0M161.68 127.28h0M161.8 125.88h0M161.92 126.07h0M162.04 128.04h0M162.16 126.54h0M162.28 125.41h0M162.4 125.62h0M162.52 125.4h0M162.64 125.55h0M162.76 123.64h0M162.88 122.08h0M163 122.7h0M163.12 121.18h0M163.24 119.65h0M163.36 118.13h0M163.48 116.6h0M163.6 115.08h0M163.72 113.56h0M163.84 112.03h0M163.96 110.51h0M164.08 106.8h0M164.2 102h0M164.32 97.2h0M164.44 92.4h0M164.56 87.6h0M164.68 82.8h0M164.8 78h0M164.92 73.2h0M165.04 68.8h0M165.16 65.2h0M165.28 61.6h0M165.4 58h0M165.52 54.4h0M165.64 51.43h0M165.76 49.71h0M165.88 48h0M166 46.29h0M166.12 44.57h0M166.24 42.86h0M166.36 40.67h0M166.48 41.12h0M166.6 39.38h0M166.72 40.39h0M166.84 40.58h0M166.96 39.6h0M167.08 37.96h0M167.2 39.33h0M167.32 39.44h0M167.44 40.28h0M167.56 42.83h0M167.68 41.92h0M167.8 45.21h0M167.92 45.71h0M168.04 48.19h0M168.16 48.39h0M168.28 48.88h0M168.4 50.82h0M168.52 51.55h0M168.64 51.35h0M168.76 52.08h0M168.88 51.63h0M169 50.71h0M169.12 53.5h0M169.24 53.7h0M169.36 53.62h0M169.48 53.88h0M169.6 55.09h0M169.72 54.35h0M169.84 54.61h0M169.96 55.49h0M170.08 57.05h0M170.2 55.45h0M170.32 57.97h0M170.44 57.64h0M170.56 59.02h0M170.68 61.06h0M170.8 63.1h0M170.92 65.14h0M171.04 67.18h0M171.16 69.22h0M171.28 71.26h0M171.4 73.3h0M171.52 75.6h0M171.64 79.2h0M171.76 82.8h0M171.88 86.4h0M172 90h0M172.12 92.57h0M172.24 95.14h0M172.36 97.71h0M172.48 100.29h0M172.6 102.86h0M172.72 105.33h0M172.84 107.28h0M172.96 109.23h0M173.08 111.18h0M173.2 113.13h0M173.32 115.08h0M173.44 117.03h0M173.56 118.4h0M173.68 122.27h0M173.8 121.76h0M173.92 123.89h0M174.04 124.16h0M174.16 121.63h0M174.28 122.81h0M174.4 124.51h0M174.52 125.64h0M174.64 126.62h0M174.76 127h0M174.88 128.45h0M175 129.64h0M175.12 129.67h0M175.24 131.17h0M175.36 129.15h0M175.48 131.45h0M175.6 129.79h0M175.72 131.05h0M175.84 129.77h0M175.96 128.92h0M176.08 129.6h0M176.2 128.24h0M176.32 127.91h0M176.44 127.5h0M176.56 129.76h0M176.68 131.19h0M176.8 132.63h0M176.92 132.72h0M177.04 134.18h0M177.16 132.98h0M177.28 131.84h0M177.4 130.7h0M177.52 129.56h0M177.64 128.42h0M177.76 127.28h0M177.88 126.14h0M178 125h0M178.12 123.86h0M178.24 122.72h0M178.36 121.58h0M178.48 120.44h0M178.6 119.3h0M178.72 118.16h0M178.84 117.02h0M178.96 109.52h0M179.08 111.09h0M179.2 109.83h0M179.32 111.01h0M179.44 110.68h0M179.56 110.24h0M179.68 111.32h0M179.8 112.83h0M179.92 113.39h0M180.04 114.24h0M180.16 114.82h0M180.28 114.46h0M180.4 116.59h0M180.52 115h0M180.64 117.32h0M180.76 116.68h0M180.88 116.93h0M181 117.57h0M181.12 118.21h0M181.24 117.09h0M181.36 117.08h0M181.48 118.29h0M181.6 118.39h0M181.72 120.13h0M181.84 123.06h0M181.96 121.82h0M182.08 123.31h0M182.2 121.44h0M182.32 122.52h0M182.44 121.9h0M182.56 122.24h0M182.68 122.88h0M182.8 123.97h0M182.92 122.85h0M183.04 122.93h0M183.16 122.19h0M183.28 123.57h0M183.4 123.04h0M183.52 122.14h0M183.64 120.12h0M183.76 120.22h0M183.88 115.92h0M184 115.94h0M184.12 115.56h0M184.24 113.25h0M184.36 111.57h0M184.48 111.5h0M184.6 110.55h0M184.72 111.68h0M184.84 113.48h0M184.96 112.37h0M185.08 110.83h0M185.2 111.43h0M185.32 112.22h0M185.44 113.85h0M185.56 113.04h0M185.68 113.8h0M185.8 115.71h0M185.92 116.35h0M186.04 116.01h0M186.16 116.07h0M186.28 116.38h0M186.4 117.72h0M186.52 117.04h0M186.64 120.49h0M186.76 120.45h0M186.88 122.4h0M187 124.57h0M187.12 125.08h0M187.24 124.28h0M187.36 126.96h0M187.48 128.01h0M187.6 127.18h0M187.72 127.71h0M187.84 129.08h0M187.96 128.58h0M188.08 130.78h0M188.2 126.94h0M188.32 127.24h0M188.44 127.26h0M188.56 126.8h0M188.68 126.62h0M188.8 126.21h0M188.92 125.34h0M189.04 125.92h0M189.16 122.81h0M189.28 124.03h0M189.4 122.97h0M189.52 123.53h0M189.64 123.57h0M189.76 122.63h0M189.88 122.81h0M190 123.92h0M190.12 123.53h0M190.24 122.67h0M190.36 124.81h0M190.48 124.71h0M190.6 121.24h0M190.72 122.2h0M190.84 123.51h0M190.96 121.68h0M191.08 120.98h0M191.2 120.5h0M191.32 120.1h0M191.44 120.05h0M191.56 119.12h0M191.68 119.49h0M191.8 117.92h0M191.92 117.22h0M192.04 115.95h0M192.16 116.21h0M192.28 114.87h0M192.4 114.78h0M192.52 116.06h0M192.64 115.82h0M192.76 116.23h0M192.88 116.41h0M193 116.47h0M193.12 117.04h0M193.24 117.62h0M193.36 119.19h0M193.48 118.22h0M193.6 120.56h0M193.72 119.92h0M193.84 119.69h0M193.96 120.29h0M194.08 120.54h0M194.2 121.61h0M194.32 121.3h0M194.44 123.04h0M194.56 121.43h0M194.68 120.17h0M194.8 121.34h0M194.92 120.26h0M195.04 121.52h0M195.16 121.6h0M195.28 120.47h0M195.4 118.08h0M195.52 118.66h0M195.64 120.81h0M195.76 119.76h0M195.88 119.63h0M196 120.59h0M196.12 121.83h0M196.24 121.03h0M196.36 120.22h0M196.48 119.89h0M196.6 120.41h0M196.72 120.76h0M196.84 121.72h0M196.96 122.68h0M197.08 123.64h0M197.2 124.6h0M197.32 125.56h0M197.44 126.52h0M197.56 127.48h0M197.68 128.44h0M197.8 129.4h0M197.92 131.01h0M198.04 132.58h0M198.16 131.29h0M198.28 130.96h0M198.4 130.24h0M198.52 129.74h0M198.64 129.85h0M198.76 128.39h0M198.88 126.47h0M199 125.92h0M199.12 125.17h0M199.24 124.48h0M199.36 122.54h0M199.48 121.92h0M199.6 120.82h0M199.72 121.69h0M199.84 124.25h0M199.96 121.55h0M200.08 123.38h0M200.2 124.17h0M200.32 124.04h0M200.44 123.96h0M200.56 124.68h0M200.68 124.85h0M200.8 124.91h0M200.92 123.6h0M201.04 125.13h0M201.16 124.78h0M201.28 125.23h0M201.4 126.06h0M201.52 127.05h0M201.64 127.91h0M201.76 127.45h0M201.88 129.23h0M202 130.09h0M202.12 130.71h0M202.24 131.57h0M202.36 130.99h0M202.48 131.02h0M202.6 129.68h0M202.72 126.78h0M202.84 123.87h0M202.96 120.97h0M203.08 116.8h0M203.2 112h0M203.32 107.2h0M203.44 102.4h0M203.56 97.6h0M203.68 92.8h0M203.8 88h0M203.92 83.2h0M204.04 78.4h0M204.16 73.6h0M204.28 68.8h0M204.4 64h0M204.52 59.4h0M204.64 55.8h0M204.76 52.2h0M204.88 48.6h0M205 45h0M205.12 43.56h0M205.24 42.12h0M205.36 40.68h0M205.48 38.55h0M205.6 39.37h0M205.72 39.23h0M205.84 37.32h0M205.96 36.44h0M206.08 36.09h0M206.2 35.97h0M206.32 35.63h0M206.44 36.15h0M206.56 37.65h0M206.68 39.11h0M206.8 40.73h0M206.92 41.64h0M207.04 41.33h0M207.16 43.8h0M207.28 45.5h0M207.4 46.3h0M207.52 46.54h0M207.64 44.74h0M207.76 43.5h0M207.88 44.61h0M208 43.2h0M208.12 42.05h0M208.24 41.83h0M208.36 41.15h0M208.48 41.09h0M208.6 39.5h0M208.72 41.47h0M208.84 42.19h0M208.96 42.32h0M209.08 43.81h0M209.2 45.15h0M209.32 44.35h0M209.44 43.85h0M209.56 45.35h0M209.68 42.33h0M209.8 40.68h0M209.92 40.82h0M210.04 39.97h0M210.16 38.12h0M210.28 38.38h0M210.4 36.41h0M210.52 36.36h0M210.64 37.54h0M210.76 38.31h0M210.88 37.48h0M211 38.54h0M211.12 38.5h0M211.24 41.13h0M211.36 38.6h0M211.48 39.99h0M211.6 38.81h0M211.72 38.83h0M211.84 39.59h0M211.96 39.8h0M212.08 40.18h0M212.2 39.51h0M212.32 38.85h0M212.44 38.84h0M212.56 39.37h0M212.68 39.11h0M212.8 39.46h0M212.92 38.36h0M213.04 38.52h0M213.16 38.45h0M213.28 36.94h0M213.4 35.19h0M213.52 36.71h0M213.64 37.78h0M213.76 41.48h0M213.88 40.81h0M214 43.75h0M214.12 44.51h0M214.24 46.69h0M214.36 47.4h0M214.48 47.13h0M214.6 47.61h0M214.72 48.46h0M214.84 49.15h0M214.96 49.2h0M215.08 50.22h0M215.2 52.15h0M215.32 50.12h0M215.44 52.09h0M215.56 51.12h0M215.68 51.96h0M215.8 52.45h0M215.92 51.7h0M216.04 51.91h0M216.16 48.76h0M216.28 49.64h0M216.4 47.01h0M216.52 47.22h0M216.64 46.1h0M216.76 43.11h0M216.88 43.8h0M217 43.82h0M217.12 44.11h0M217.24 42.33h0M217.36 41.54h0M217.48 39.51h0M217.6 41.14h0M217.72 40.8h0M217.84 38.73h0M217.96 37.88h0M218.08 36.62h0M218.2 38.73h0M218.32 40.3h0M218.44 38.7h0M218.56 38.89h0M218.68 38.07h0M218.8 36.6h0M218.92 38.21h0M219.04 35.9h0M219.16 36.48h0M219.28 36.62h0M219.4 36.86h0M219.52 37.34h0M219.64 38.18h0M219.76 38.13h0M219.88 38.57h0M220 40.51h0M220.12 40.88h0M220.24 41.38h0M220.36 42.4h0M220.48 43.05h0M220.6 41.51h0M220.72 41.47h0M220.84 40.8h0M220.96 41.81h0M221.08 41.54h0M221.2 42.38h0M221.32 39.13h0M221.44 39.61h0M221.56 41.26h0M221.68 40.73h0M221.8 41.02h0M221.92 43.02h0M222.04 41.76h0M222.16 41.48h0M222.28 41.73h0M222.4 43.42h0M222.52 43.3h0M222.64 41.86h0M222.76 42.07h0M222.88 43.19h0M223 43.12h0M223.12 42.05h0M223.24 42.96h0M223.36 42.82h0M223.48 41.07h0M223.6 42.5h0M223.72 43.33h0M223.84 42.79h0M223.96 41.79h0M224.08 43.73h0M224.2 45.13h0M224.32 46.36h0M224.44 43.81h0M224.56 47.91h0M224.68 45.17h0M224.8 47.09h0M224.92 47.56h0M225.04 47.32h0M225.16 46.04h0M225.28 44.36h0M225.4 45.17h0M225.52 44.7h0M225.64 43.86h0M225.76 48.74h0M225.88 47.64h0M226 49.13h0M226.12 47.59h0M226.24 50.13h0M226.36 50.86h0M226.48 50.46h0M226.6 48.32h0M226.72 46.5h0M226.84 46.44h0M226.96 43.94h0M227.08 43.47h0M227.2 44.02h0M227.32 42.28h0M227.44 42.39h0M227.56 42.57h0M227.68 44.38h0M227.8 44.06h0M227.92 43.17h0M228.04 44.35h0M228.16 42.94h0M228.28 43.48h0M228.4 44.66h0M228.52 42.32h0M228.64 42.48h0M228.76 41.03h0M228.88 41.57h0M229 42.17h0M229.12 40.39h0M229.24 41.3h0M229.36 40.53h0M229.48 40.53h0M229.6 40.68h0M229.72 43.06h0M229.84 44.01h0M229.96 42.73h0M230.08 41.99h0M230.2 43.35h0M230.32 42.75h0M230.44 44.02h0M230.56 44.33h0M230.68 45.14h0M230.8 46.21h0M230.92 46.08h0M231.04 47.03h0M231.16 46.79h0M231.28 48.63h0M231.4 48.66h0M231.52 50.26h0M231.64 50.19h0M231.76 51.62h0M231.88 52.49h0M232 51.57h0M232.12 51.65h0M232.24 51.15h0M232.36 52.1h0M232.48 52.67h0M232.6 51.89h0M232.72 50.84h0M232.84 52.2h0M232.96 49.72h0M233.08 52.04h0M233.2 50.22h0M233.32 48.42h0M233.44 52.55h0M233.56 51.24h0M233.68 48.69h0M233.8 49.19h0M233.92 48.42h0M234.04 48.18h0M234.16 46.32h0M234.28 46.38h0M234.4 46.71h0M234.52 46.11h0M234.64 46.48h0M234.76 45.18h0M234.88 46.58h0M235 43.72h0M235.12 44.09h0M235.24 41.94h0M235.36 42.06h0M235.48 43.42h0M235.6 40.76h0M235.72 41.08h0M235.84 39.76h0M235.96 38.12h0M236.08 37.98h0M236.2 37.24h0M236.32 36.65h0M236.44 37.24h0M236.56 37.18h0M236.68 36.22h0M236.8 35.97h0M236.92 36.95h0M237.04 36.66h0M237.16 37.59h0M237.28 38.91h0M237.4 37.48h0M237.52 37.53h0M237.64 38.16h0M237.76 38.36h0M237.88 39.07h0M238 39.74h0M238.12 40.99h0M238.24 41.73h0M238.36 43.43h0M238.48 42.06h0M238.6 41.15h0M238.72 39.26h0M238.84 40.47h0M238.96 38.49h0M239.08 38.44h0M239.2 36.58h0M239.32 36.06h0M239.44 33.84h0M239.56 34.29h0M239.68 35.55h0M239.8 32.08h0M239.92 33.68h0M240.04 33.67h0M240.16 32.02h0M240.28 31.67h0M240.4 31.45h0M240.52 29.94h0M240.64 30.87h0M240.76 29.88h0M240.88 30.09h0M241 30.19h0M241.12 30.64h0M241.24 30.93h0M241.36 31.23h0M241.48 29.67h0M241.6 33.09h0M241.72 33.18h0M241.84 33.6h0M241.96 33.48h0M242.08 34.47h0M242.2 35.77h0M242.32 36.43h0M242.44 34.98h0M242.56 36.23h0M242.68 37.27h0M242.8 32.63h0M242.92 34.22h0M243.04 33.03h0M243.16 32.07h0M243.28 32.73h0M243.4 30.08h0M243.52 32.2h0M243.64 34.29h0M243.76 33.94h0M243.88 34.78h0M244 36.23h0M244.12 36.43h0M244.24 38.71h0M244.36 37.35h0M244.48 39.04h0M244.6 37.3h0M244.72 38.89h0M244.84 38.27h0M244.96 36.24h0M245.08 38.37h0M245.2 37.51h0M245.32 38.03h0M245.44 39.59h0M245.56 37.14h0M245.68 36.93h0M245.8 38.73h0M245.92 37.38h0M246.04 38.43h0M246.16 37.6h0M246.28 36.77h0M246.4 37.61h0M246.52 40.23h0M246.64 41.56h0M246.76 42.34h0M246.88 43.94h0M247 45.36h0M247.12 46.54h0M247.24 50.16h0M247.36 50.14h0M247.48 49.93h0M247.6 49.77h0M247.72 49.87h0M247.84 48.91h0M247.96 47.38h0M248.08 46.05h0M248.2 45.73h0M248.32 43.44h0M248.44 42.97h0M248.56 44.13h0M248.68 42.52h0M248.8 42.65h0M248.92 42.78h0M249.04 41.74h0M249.16 40.61h0M249.28 41.73h0M249.4 39.92h0M249.52 38.11h0M249.64 38.04h0M249.76 36.81h0M249.88 34.81h0M250 34.61h0M250.12 33.45h0M250.24 31h0M250.36 31.51h0M250.48 30.98h0M250.6 31.45h0M250.72 31.22h0M250.84 33.04h0M250.96 34.06h0M251.08 34.93h0M251.2 34.68h0M251.32 36.89h0M251.44 35.85h0M251.56 36.58h0M251.68 37.75h0M251.8 36.02h0M251.92 36.08h0M252.04 37.4h0M252.16 36.41h0M252.28 36.69h0M252.4 37.33h0M252.52 38.75h0M252.64 36.82h0M252.76 38.7h0M252.88 39.3h0M253 39.98h0M253.12 40.91h0M253.24 41.67h0M253.36 43.35h0M253.48 42.77h0M253.6 43.83h0M253.72 44.28h0M253.84 43.59h0M253.96 44.52h0M254.08 45.98h0M254.2 45.14h0M254.32 44.58h0M254.44 45.39h0M254.56 45.25h0M254.68 46.78h0M254.8 47.82h0M254.92 47h0M255.04 48h0M255.16 49.46h0M255.28 48.51h0M255.4 49.45h0M255.52 49.85h0M255.64 51.42h0M255.76 53.06h0M255.88 56.62h0M256 55.95h0M256.12 57.25h0M256.24 58.62h0M256.36 60.33h0M256.48 61.26h0M256.6 60.59h0M256.72 61.8h0M256.84 60.03h0M256.96 60.72h0M257.08 59.5h0M257.2 59.47h0M257.32 57.54h0M257.44 58.64h0M257.56 59.41h0M257.68 59.99h0M257.8 59.18h0M257.92 62.33h0M258.04 61.72h0M258.16 61.45h0M258.28 61.36h0M258.4 61.15h0M258.52 60.99h0M258.64 58.99h0M258.76 58.59h0M258.88 58.91h0M259 58.12h0M259.12 57.11h0M259.24 56.36h0M259.36 55.55h0M259.48 55.55h0M259.6 55.92h0M259.72 53.5h0M259.84 54.93h0M259.96 53.76h0M260.08 52.1h0M260.2 52.46h0M260.32 50.03h0M260.44 49.23h0M260.56 49.2h0M260.68 49.64h0M260.8 49.44h0M260.92 49.03h0M261.04 49.25h0M261.16 47.2h0M261.28 49.04h0M261.4 47.24h0M261.52 48.04h0M261.64 48.44h0M261.76 48.04h0M261.88 48.07h0M262 48.55h0M262.12 49.19h0M262.24 49.51h0M262.36 49.32h0M262.48 47.38h0M262.6 46.59h0M262.72 45.53h0M262.84 45.66h0M262.96 42.72h0M263.08 44.38h0M263.2 42.04h0M263.32 40.85h0M263.44 40.92h0M263.56 41.42h0M263.68 41.28h0M263.8 42.27h0M263.92 41.95h0M264.04 43.25h0M264.16 43.68h0M264.28 43.02h0M264.4 44.67h0M264.52 44.07h0M264.64 44.44h0M264.76 44.06h0M264.88 44.99h0M265 46.27h0M265.12 45.15h0M265.24 47.26h0M265.36 47.57h0M265.48 48.31h0M265.6 47.24h0M265.72 49.85h0M265.84 51.37h0M265.96 51.17h0M266.08 52.78h0M266.2 51.72h0M266.32 55.09h0M266.44 54.73h0M266.56 55.85h0M266.68 53.18h0M266.8 54.71h0M266.92 53.47h0" stroke="#000" stroke-width="2.0" stroke-linecap="round" fill="none"/>
<circle cx="162.6" cy="119" r="3.1" fill="#e8141c" stroke="#8a0a0a" stroke-width="0.5"/>
<circle cx="170" cy="62.4" r="3.1" fill="#5de05d" stroke="#2a7a2a" stroke-width="0.5"/>
<circle cx="177" cy="129.6" r="3.1" fill="#e020e0" stroke="#701070" stroke-width="0.5"/>
<text x="108.4" y="41.6" font-size="9.4" font-style="italic" fill="#222">h<tspan font-size="6.5" font-style="normal" dy="2.3">ω</tspan></text>
<line x1="118.5" y1="42" x2="126.5" y2="47.5" stroke="#111" stroke-width="0.8" />
<text x="218.2" y="101.6" font-size="10" font-style="italic" fill="#e03030">h<tspan font-size="6.5" font-style="normal" dy="2.3">ω→0</tspan></text>
<line x1="230.4" y1="96.4" x2="232.6" y2="88.4" stroke="#e03030" stroke-width="0.8" />
<text x="0.2" y="8.8" font-size="15" font-weight="bold" fill="#000">a</text>
<text x="0.3" y="237.6" font-size="15" font-weight="bold" fill="#000">b</text>
<text x="115.5" y="238.1" font-size="16" font-weight="bold" fill="#000">c</text>
<text x="232.7" y="238.1" font-size="15" font-weight="bold" fill="#000">d</text>
<text x="358.6" y="8.7" font-size="16" font-weight="bold" fill="#000">e</text>
<text x="359.2" y="154" font-size="15" font-weight="bold" fill="#000">f</text>
<defs>
<filter id="nz" x="0" y="0" width="100%" height="100%" color-interpolation-filters="sRGB">
<feTurbulence type="fractalNoise" baseFrequency="0.2" numOctaves="3" seed="5"/>
<feColorMatrix type="matrix" values="0.3 0 0 0 0.44  0.3 0 0 0 0.44  0.3 0 0 0 0.44  0 0 0 0 1"/>
</filter>
<radialGradient id="bub"><stop offset="0.55" stop-color="#9aa4a4" stop-opacity="0"/><stop offset="0.8" stop-color="#5a6464" stop-opacity="0.8"/><stop offset="1" stop-color="#8a9090" stop-opacity="0"/></radialGradient>
</defs>
<rect x="7" y="243" width="95" height="87.5" fill="#8e8e8e" filter="url(#nz)"/>
<circle cx="14.4" cy="253.1" r="4.5" fill="#e8141c" stroke="#2a1010" stroke-width="1"/>
<text x="23.6" y="257.6" font-size="11" fill="#f6f6f6"><tspan font-style="italic">t</tspan> = 3.97 s</text>
<rect x="49" y="323.9" width="48.5" height="2.8" fill="#fff"/>
<rect x="126.6" y="243" width="95.3" height="87.5" fill="#8e8e8e" filter="url(#nz)"/>
<circle cx="134" cy="253.1" r="4.5" fill="#5de05d" stroke="#2a1010" stroke-width="1"/>
<text x="143.2" y="257.6" font-size="11" fill="#f6f6f6"><tspan font-style="italic">t</tspan> = 4.51 s</text>
<rect x="168.6" y="323.9" width="48.5" height="2.8" fill="#fff"/>
<rect x="245.5" y="243" width="94.5" height="87.5" fill="#8e8e8e" filter="url(#nz)"/>
<circle cx="252.9" cy="253.1" r="4.5" fill="#e020e0" stroke="#2a1010" stroke-width="1"/>
<text x="262.1" y="257.6" font-size="11" fill="#f6f6f6"><tspan font-style="italic">t</tspan> = 5.01 s</text>
<rect x="287.5" y="323.9" width="48.5" height="2.8" fill="#fff"/>
<filter id="bl" x="-50%" y="-50%" width="200%" height="200%"><feGaussianBlur stdDeviation="0.7"/></filter>
<filter id="bl2" x="-50%" y="-50%" width="200%" height="200%"><feGaussianBlur stdDeviation="1.2"/></filter>
<g filter="url(#bl)">
<circle cx="57.6" cy="288.9" r="12" fill="none" stroke="#e8eeee" stroke-width="3" opacity="0.45" filter="url(#bl2)"/>
<circle cx="58.3" cy="288.7" r="9.1" fill="#8e9696" stroke="#5e6868" stroke-width="2.1"/>
<circle cx="58.3" cy="288.7" r="9.1" fill="none" stroke="#aab4b4" stroke-width="2.2" stroke-dasharray="14 100" stroke-dashoffset="-27"/>
<ellipse cx="63.8" cy="290.4" rx="2.2" ry="2.7" fill="#f6fafa"/>
<circle cx="53.2" cy="288.8" r="3.9" fill="#f0d0d0" stroke="#c84050" stroke-width="1.4"/>
<circle cx="173.1" cy="289.3" r="4.2" fill="#dcb8bf" stroke="#c05a6a" stroke-width="1.5"/>
<circle cx="292" cy="290.3" r="7.4" fill="none" stroke="#6c7272" stroke-width="1.6" opacity="0.6"/>
<circle cx="291.9" cy="290.3" r="4.2" fill="#f2cccc" stroke="#8a4a50" stroke-width="1.3"/>
</g>
<line x1="424.81" y1="119.1" x2="424.81" y2="115.3" stroke="#222" stroke-width="0.85" />
<line x1="424.81" y1="6.4" x2="424.81" y2="10.2" stroke="#222" stroke-width="0.85" />
<line x1="438.23" y1="119.1" x2="438.23" y2="115.3" stroke="#222" stroke-width="0.85" />
<line x1="438.23" y1="6.4" x2="438.23" y2="10.2" stroke="#222" stroke-width="0.85" />
<line x1="451.64" y1="119.1" x2="451.64" y2="115.3" stroke="#222" stroke-width="0.85" />
<line x1="451.64" y1="6.4" x2="451.64" y2="10.2" stroke="#222" stroke-width="0.85" />
<line x1="465.06" y1="119.1" x2="465.06" y2="111.1" stroke="#222" stroke-width="0.85" />
<line x1="465.06" y1="6.4" x2="465.06" y2="14.4" stroke="#222" stroke-width="0.85" />
<line x1="478.48" y1="119.1" x2="478.48" y2="115.3" stroke="#222" stroke-width="0.85" />
<line x1="478.48" y1="6.4" x2="478.48" y2="10.2" stroke="#222" stroke-width="0.85" />
<line x1="491.89" y1="119.1" x2="491.89" y2="115.3" stroke="#222" stroke-width="0.85" />
<line x1="491.89" y1="6.4" x2="491.89" y2="10.2" stroke="#222" stroke-width="0.85" />
<line x1="505.31" y1="119.1" x2="505.31" y2="115.3" stroke="#222" stroke-width="0.85" />
<line x1="505.31" y1="6.4" x2="505.31" y2="10.2" stroke="#222" stroke-width="0.85" />
<line x1="518.72" y1="119.1" x2="518.72" y2="111.1" stroke="#222" stroke-width="0.85" />
<line x1="518.72" y1="6.4" x2="518.72" y2="14.4" stroke="#222" stroke-width="0.85" />
<line x1="532.13" y1="119.1" x2="532.13" y2="115.3" stroke="#222" stroke-width="0.85" />
<line x1="532.13" y1="6.4" x2="532.13" y2="10.2" stroke="#222" stroke-width="0.85" />
<line x1="545.55" y1="119.1" x2="545.55" y2="115.3" stroke="#222" stroke-width="0.85" />
<line x1="545.55" y1="6.4" x2="545.55" y2="10.2" stroke="#222" stroke-width="0.85" />
<line x1="558.97" y1="119.1" x2="558.97" y2="115.3" stroke="#222" stroke-width="0.85" />
<line x1="558.97" y1="6.4" x2="558.97" y2="10.2" stroke="#222" stroke-width="0.85" />
<line x1="572.38" y1="119.1" x2="572.38" y2="111.1" stroke="#222" stroke-width="0.85" />
<line x1="572.38" y1="6.4" x2="572.38" y2="14.4" stroke="#222" stroke-width="0.85" />
<line x1="585.8" y1="119.1" x2="585.8" y2="115.3" stroke="#222" stroke-width="0.85" />
<line x1="585.8" y1="6.4" x2="585.8" y2="10.2" stroke="#222" stroke-width="0.85" />
<line x1="599.21" y1="119.1" x2="599.21" y2="115.3" stroke="#222" stroke-width="0.85" />
<line x1="599.21" y1="6.4" x2="599.21" y2="10.2" stroke="#222" stroke-width="0.85" />
<line x1="612.62" y1="119.1" x2="612.62" y2="115.3" stroke="#222" stroke-width="0.85" />
<line x1="612.62" y1="6.4" x2="612.62" y2="10.2" stroke="#222" stroke-width="0.85" />
<line x1="626.04" y1="119.1" x2="626.04" y2="111.1" stroke="#222" stroke-width="0.85" />
<line x1="626.04" y1="6.4" x2="626.04" y2="14.4" stroke="#222" stroke-width="0.85" />
<line x1="639.46" y1="119.1" x2="639.46" y2="115.3" stroke="#222" stroke-width="0.85" />
<line x1="639.46" y1="6.4" x2="639.46" y2="10.2" stroke="#222" stroke-width="0.85" />
<line x1="652.87" y1="119.1" x2="652.87" y2="115.3" stroke="#222" stroke-width="0.85" />
<line x1="652.87" y1="6.4" x2="652.87" y2="10.2" stroke="#222" stroke-width="0.85" />
<line x1="666.29" y1="119.1" x2="666.29" y2="115.3" stroke="#222" stroke-width="0.85" />
<line x1="666.29" y1="6.4" x2="666.29" y2="10.2" stroke="#222" stroke-width="0.85" />
<line x1="411.4" y1="106.58" x2="415.2" y2="106.58" stroke="#222" stroke-width="0.85" />
<line x1="679.7" y1="106.58" x2="675.9" y2="106.58" stroke="#222" stroke-width="0.85" />
<line x1="411.4" y1="94.06" x2="419.4" y2="94.06" stroke="#222" stroke-width="0.85" />
<line x1="679.7" y1="94.06" x2="671.7" y2="94.06" stroke="#222" stroke-width="0.85" />
<line x1="411.4" y1="81.53" x2="415.2" y2="81.53" stroke="#222" stroke-width="0.85" />
<line x1="679.7" y1="81.53" x2="675.9" y2="81.53" stroke="#222" stroke-width="0.85" />
<line x1="411.4" y1="69.01" x2="419.4" y2="69.01" stroke="#222" stroke-width="0.85" />
<line x1="679.7" y1="69.01" x2="671.7" y2="69.01" stroke="#222" stroke-width="0.85" />
<line x1="411.4" y1="56.49" x2="415.2" y2="56.49" stroke="#222" stroke-width="0.85" />
<line x1="679.7" y1="56.49" x2="675.9" y2="56.49" stroke="#222" stroke-width="0.85" />
<line x1="411.4" y1="43.97" x2="419.4" y2="43.97" stroke="#222" stroke-width="0.85" />
<line x1="679.7" y1="43.97" x2="671.7" y2="43.97" stroke="#222" stroke-width="0.85" />
<line x1="411.4" y1="31.44" x2="415.2" y2="31.44" stroke="#222" stroke-width="0.85" />
<line x1="679.7" y1="31.44" x2="675.9" y2="31.44" stroke="#222" stroke-width="0.85" />
<line x1="411.4" y1="18.92" x2="419.4" y2="18.92" stroke="#222" stroke-width="0.85" />
<line x1="679.7" y1="18.92" x2="671.7" y2="18.92" stroke="#222" stroke-width="0.85" />
<text x="406.4" y="122.9" font-size="10.5" text-anchor="end" fill="#111" >0</text>
<text x="406.4" y="97.86" font-size="10.5" text-anchor="end" fill="#111" >1</text>
<text x="406.4" y="72.81" font-size="10.5" text-anchor="end" fill="#111" >2</text>
<text x="406.4" y="47.77" font-size="10.5" text-anchor="end" fill="#111" >3</text>
<text x="406.4" y="22.72" font-size="10.5" text-anchor="end" fill="#111" >4</text>
<text x="411.4" y="131.8" font-size="10.5" text-anchor="middle" fill="#111" >0</text>
<text x="465.06" y="131.8" font-size="10.5" text-anchor="middle" fill="#111" >2</text>
<text x="518.72" y="131.8" font-size="10.5" text-anchor="middle" fill="#111" >4</text>
<text x="572.38" y="131.8" font-size="10.5" text-anchor="middle" fill="#111" >6</text>
<text x="626.04" y="131.8" font-size="10.5" text-anchor="middle" fill="#111" >8</text>
<text x="679.7" y="131.8" font-size="10.5" text-anchor="middle" fill="#111" >10</text>
<text transform="translate(377.6,60.8) rotate(-90)" font-size="11.4" text-anchor="middle" fill="#111">(Relative)</text>
<text transform="translate(390.4,60.45) rotate(-90)" font-size="11.4" text-anchor="middle" fill="#111">vapor bubble size</text>
<line x1="412.8" y1="94.5" x2="679.7" y2="94.5" stroke="#111" stroke-width="1" stroke-dasharray="7 4.2"/>
<line x1="449.9" y1="21" x2="450.5" y2="119" stroke="#aaa" stroke-width="0.8" />
<line x1="518.6" y1="60" x2="519.1" y2="119" stroke="#aaa" stroke-width="0.8" />
<line x1="586.2" y1="57.3" x2="589.2" y2="117.5" stroke="#aaa" stroke-width="0.8" />
<clipPath id="ce"><rect x="411" y="0" width="270" height="119.1"/></clipPath>
<g clip-path="url(#ce)">
<circle cx="451.6" cy="119.3" r="3.2" fill="#000"/>
<circle cx="454" cy="119.3" r="3.2" fill="#000"/>
<circle cx="456.8" cy="119.3" r="3.2" fill="#000"/>
<circle cx="519.5" cy="119.3" r="3.2" fill="#000"/>
<circle cx="522" cy="119.3" r="3.2" fill="#000"/>
<circle cx="524.6" cy="119.3" r="3.2" fill="#000"/>
</g>
<clipPath id="ce2"><rect x="411.4" y="0" width="270" height="125"/></clipPath>
<g clip-path="url(#ce2)">
<circle cx="411.9" cy="21.2" r="2.45" fill="#fff" stroke="#000" stroke-width="0.8"/>
<circle cx="415.4" cy="23.6" r="2.45" fill="#fff" stroke="#000" stroke-width="0.8"/>
<circle cx="418.4" cy="17.2" r="2.45" fill="#fff" stroke="#000" stroke-width="0.8"/>
<circle cx="421.3" cy="15.8" r="2.45" fill="#fff" stroke="#000" stroke-width="0.8"/>
<circle cx="423.9" cy="17" r="2.45" fill="#fff" stroke="#000" stroke-width="0.8"/>
<circle cx="426.4" cy="18.3" r="2.45" fill="#fff" stroke="#000" stroke-width="0.8"/>
<circle cx="429.4" cy="20.8" r="2.45" fill="#fff" stroke="#000" stroke-width="0.8"/>
<circle cx="432.9" cy="16.6" r="2.45" fill="#fff" stroke="#000" stroke-width="0.8"/>
<circle cx="436.6" cy="20" r="2.45" fill="#fff" stroke="#000" stroke-width="0.8"/>
<circle cx="439.8" cy="17" r="2.45" fill="#fff" stroke="#000" stroke-width="0.8"/>
<circle cx="442.7" cy="17.9" r="2.45" fill="#fff" stroke="#000" stroke-width="0.8"/>
<circle cx="445.4" cy="18.6" r="2.45" fill="#fff" stroke="#000" stroke-width="0.8"/>
<circle cx="448.8" cy="13.4" r="2.45" fill="#fff" stroke="#000" stroke-width="0.8"/>
<circle cx="449" cy="17.8" r="2.45" fill="#fff" stroke="#000" stroke-width="0.8"/>
<circle cx="449.2" cy="21.1" r="2.45" fill="#fff" stroke="#000" stroke-width="0.8"/>
<circle cx="450.4" cy="111.4" r="2.45" fill="#fff" stroke="#000" stroke-width="0.8"/>
<circle cx="451.4" cy="103.2" r="2.45" fill="#fff" stroke="#000" stroke-width="0.8"/>
<circle cx="452.1" cy="106.5" r="2.45" fill="#fff" stroke="#000" stroke-width="0.8"/>
<circle cx="456.8" cy="108.5" r="2.45" fill="#fff" stroke="#000" stroke-width="0.8"/>
<circle cx="456.8" cy="105.2" r="2.45" fill="#fff" stroke="#000" stroke-width="0.8"/>
<circle cx="457.4" cy="100.5" r="2.45" fill="#fff" stroke="#000" stroke-width="0.8"/>
<circle cx="458.8" cy="97.1" r="2.45" fill="#fff" stroke="#000" stroke-width="0.8"/>
<circle cx="459.6" cy="98.8" r="2.45" fill="#fff" stroke="#000" stroke-width="0.8"/>
<circle cx="460.1" cy="94.4" r="2.45" fill="#fff" stroke="#000" stroke-width="0.8"/>
<circle cx="461" cy="96" r="2.45" fill="#fff" stroke="#000" stroke-width="0.8"/>
<circle cx="461.4" cy="90.4" r="2.45" fill="#fff" stroke="#000" stroke-width="0.8"/>
<circle cx="462.3" cy="92.6" r="2.45" fill="#fff" stroke="#000" stroke-width="0.8"/>
<circle cx="463.5" cy="91.8" r="2.45" fill="#fff" stroke="#000" stroke-width="0.8"/>
<circle cx="464.4" cy="89" r="2.45" fill="#fff" stroke="#000" stroke-width="0.8"/>
<circle cx="466.8" cy="86.4" r="2.45" fill="#fff" stroke="#000" stroke-width="0.8"/>
<circle cx="469.8" cy="78.7" r="2.45" fill="#fff" stroke="#000" stroke-width="0.8"/>
<circle cx="471" cy="79.5" r="2.45" fill="#fff" stroke="#000" stroke-width="0.8"/>
<circle cx="474.5" cy="75.1" r="2.45" fill="#fff" stroke="#000" stroke-width="0.8"/>
<circle cx="477.9" cy="68" r="2.45" fill="#fff" stroke="#000" stroke-width="0.8"/>
<circle cx="481.7" cy="66" r="2.45" fill="#fff" stroke="#000" stroke-width="0.8"/>
<circle cx="485.5" cy="62" r="2.45" fill="#fff" stroke="#000" stroke-width="0.8"/>
<circle cx="488.8" cy="59" r="2.45" fill="#fff" stroke="#000" stroke-width="0.8"/>
<circle cx="492.4" cy="59" r="2.45" fill="#fff" stroke="#000" stroke-width="0.8"/>
<circle cx="496" cy="58.5" r="2.45" fill="#fff" stroke="#000" stroke-width="0.8"/>
<circle cx="499.5" cy="58.5" r="2.45" fill="#fff" stroke="#000" stroke-width="0.8"/>
<circle cx="503.1" cy="58.5" r="2.45" fill="#fff" stroke="#000" stroke-width="0.8"/>
<circle cx="506.7" cy="58.5" r="2.45" fill="#fff" stroke="#000" stroke-width="0.8"/>
<circle cx="511.4" cy="58.8" r="2.45" fill="#fff" stroke="#000" stroke-width="0.8"/>
<circle cx="514.8" cy="51.3" r="2.45" fill="#fff" stroke="#000" stroke-width="0.8"/>
<circle cx="518.1" cy="54.9" r="2.45" fill="#fff" stroke="#000" stroke-width="0.8"/>
<circle cx="525.4" cy="114.5" r="2.45" fill="#fff" stroke="#000" stroke-width="0.8"/>
<circle cx="526.1" cy="111.5" r="2.45" fill="#fff" stroke="#000" stroke-width="0.8"/>
<circle cx="526.8" cy="104.2" r="2.45" fill="#fff" stroke="#000" stroke-width="0.8"/>
<circle cx="527.7" cy="98.9" r="2.45" fill="#fff" stroke="#000" stroke-width="0.8"/>
<circle cx="528.8" cy="95.8" r="2.45" fill="#fff" stroke="#000" stroke-width="0.8"/>
<circle cx="534.8" cy="88.4" r="2.45" fill="#fff" stroke="#000" stroke-width="0.8"/>
<circle cx="538.2" cy="86" r="2.45" fill="#fff" stroke="#000" stroke-width="0.8"/>
<circle cx="541.5" cy="84.4" r="2.45" fill="#fff" stroke="#000" stroke-width="0.8"/>
<circle cx="549.5" cy="78.4" r="2.45" fill="#fff" stroke="#000" stroke-width="0.8"/>
<circle cx="552.3" cy="73.9" r="2.45" fill="#fff" stroke="#000" stroke-width="0.8"/>
<circle cx="555.8" cy="69.8" r="2.45" fill="#fff" stroke="#000" stroke-width="0.8"/>
<circle cx="560" cy="72.1" r="2.45" fill="#fff" stroke="#000" stroke-width="0.8"/>
<circle cx="563.6" cy="66.8" r="2.45" fill="#fff" stroke="#000" stroke-width="0.8"/>
<circle cx="567.1" cy="64.4" r="2.45" fill="#fff" stroke="#000" stroke-width="0.8"/>
<circle cx="570.7" cy="68.6" r="2.45" fill="#fff" stroke="#000" stroke-width="0.8"/>
<circle cx="574.9" cy="71.9" r="2.45" fill="#fff" stroke="#000" stroke-width="0.8"/>
<circle cx="578.5" cy="63.6" r="2.45" fill="#fff" stroke="#000" stroke-width="0.8"/>
<circle cx="582" cy="67.1" r="2.45" fill="#fff" stroke="#000" stroke-width="0.8"/>
<circle cx="586.2" cy="57.3" r="2.45" fill="#fff" stroke="#000" stroke-width="0.8"/>
<circle cx="589" cy="117.7" r="2.45" fill="#fff" stroke="#000" stroke-width="0.8"/>
<circle cx="591.7" cy="117.7" r="2.45" fill="#fff" stroke="#000" stroke-width="0.8"/>
<circle cx="594.4" cy="117.9" r="2.45" fill="#fff" stroke="#000" stroke-width="0.8"/>
<circle cx="597" cy="117.7" r="2.45" fill="#fff" stroke="#000" stroke-width="0.8"/>
<circle cx="599.6" cy="117.2" r="2.45" fill="#fff" stroke="#000" stroke-width="0.8"/>
<circle cx="602.8" cy="117.2" r="2.45" fill="#fff" stroke="#000" stroke-width="0.8"/>
<circle cx="605.9" cy="117.2" r="2.45" fill="#fff" stroke="#000" stroke-width="0.8"/>
<circle cx="608.6" cy="116.8" r="2.45" fill="#fff" stroke="#000" stroke-width="0.8"/>
<circle cx="611.3" cy="115.4" r="2.45" fill="#fff" stroke="#000" stroke-width="0.8"/>
<circle cx="614" cy="115" r="2.45" fill="#fff" stroke="#000" stroke-width="0.8"/>
<circle cx="616.6" cy="115.9" r="2.45" fill="#fff" stroke="#000" stroke-width="0.8"/>
<circle cx="618.6" cy="111.4" r="2.45" fill="#fff" stroke="#000" stroke-width="0.8"/>
<circle cx="622" cy="110.1" r="2.45" fill="#fff" stroke="#000" stroke-width="0.8"/>
<circle cx="625" cy="110" r="2.45" fill="#fff" stroke="#000" stroke-width="0.8"/>
<circle cx="627.5" cy="109.6" r="2.45" fill="#fff" stroke="#000" stroke-width="0.8"/>
<circle cx="629.5" cy="114.8" r="2.45" fill="#fff" stroke="#000" stroke-width="0.8"/>
<circle cx="632.5" cy="115.6" r="2.45" fill="#fff" stroke="#000" stroke-width="0.8"/>
<circle cx="635.5" cy="116.5" r="2.45" fill="#fff" stroke="#000" stroke-width="0.8"/>
<circle cx="638.5" cy="117.2" r="2.45" fill="#fff" stroke="#000" stroke-width="0.8"/>
<circle cx="641.5" cy="114.6" r="2.45" fill="#fff" stroke="#000" stroke-width="0.8"/>
<circle cx="645.1" cy="116.8" r="2.45" fill="#fff" stroke="#000" stroke-width="0.8"/>
<circle cx="648.7" cy="114.6" r="2.45" fill="#fff" stroke="#000" stroke-width="0.8"/>
<circle cx="652.7" cy="109.6" r="2.45" fill="#fff" stroke="#000" stroke-width="0.8"/>
<circle cx="656.7" cy="113.7" r="2.45" fill="#fff" stroke="#000" stroke-width="0.8"/>
<circle cx="660.3" cy="113.7" r="2.45" fill="#fff" stroke="#000" stroke-width="0.8"/>
<circle cx="663.8" cy="109.6" r="2.45" fill="#fff" stroke="#000" stroke-width="0.8"/>
<circle cx="667.9" cy="115.4" r="2.45" fill="#fff" stroke="#000" stroke-width="0.8"/>
<circle cx="671" cy="109.6" r="2.45" fill="#fff" stroke="#000" stroke-width="0.8"/>
<circle cx="675" cy="116.3" r="2.45" fill="#fff" stroke="#000" stroke-width="0.8"/>
<circle cx="678.4" cy="112.8" r="2.45" fill="#fff" stroke="#000" stroke-width="0.8"/>
</g>
<circle cx="518.9" cy="60.2" r="3" fill="#e8141c" stroke="#8a0a0a" stroke-width="0.5"/>
<circle cx="531.4" cy="89.5" r="3.2" fill="#5de05d" stroke="#2a7a2a" stroke-width="0.5"/>
<circle cx="545.1" cy="77.8" r="3.1" fill="#e020e0" stroke="#701070" stroke-width="0.5"/>
<rect x="411.4" y="6.4" width="268.6" height="112.7" fill="none" stroke="#222" stroke-width="0.9"/>
<text x="524.9" y="34.1" font-size="10" font-style="italic" fill="#1a1a1a">D<tspan font-size="6.6" font-style="normal" dy="2.5">VB</tspan><tspan font-style="normal" dy="-2.5">/2</tspan><tspan dx="0.9">w</tspan></text>
<line x1="551.8" y1="26" x2="557.8" y2="26" stroke="#111" stroke-width="0.8" />
<line x1="528.4" y1="38.4" x2="521.3" y2="47.7" stroke="#111" stroke-width="0.8" />
<line x1="424.82" y1="305.5" x2="424.82" y2="301.7" stroke="#222" stroke-width="0.85" />
<line x1="424.82" y1="149.4" x2="424.82" y2="153.2" stroke="#222" stroke-width="0.85" />
<line x1="438.24" y1="305.5" x2="438.24" y2="301.7" stroke="#222" stroke-width="0.85" />
<line x1="438.24" y1="149.4" x2="438.24" y2="153.2" stroke="#222" stroke-width="0.85" />
<line x1="451.66" y1="305.5" x2="451.66" y2="301.7" stroke="#222" stroke-width="0.85" />
<line x1="451.66" y1="149.4" x2="451.66" y2="153.2" stroke="#222" stroke-width="0.85" />
<line x1="465.08" y1="305.5" x2="465.08" y2="297.5" stroke="#222" stroke-width="0.85" />
<line x1="465.08" y1="149.4" x2="465.08" y2="157.4" stroke="#222" stroke-width="0.85" />
<line x1="478.5" y1="305.5" x2="478.5" y2="301.7" stroke="#222" stroke-width="0.85" />
<line x1="478.5" y1="149.4" x2="478.5" y2="153.2" stroke="#222" stroke-width="0.85" />
<line x1="491.92" y1="305.5" x2="491.92" y2="301.7" stroke="#222" stroke-width="0.85" />
<line x1="491.92" y1="149.4" x2="491.92" y2="153.2" stroke="#222" stroke-width="0.85" />
<line x1="505.34" y1="305.5" x2="505.34" y2="301.7" stroke="#222" stroke-width="0.85" />
<line x1="505.34" y1="149.4" x2="505.34" y2="153.2" stroke="#222" stroke-width="0.85" />
<line x1="518.76" y1="305.5" x2="518.76" y2="297.5" stroke="#222" stroke-width="0.85" />
<line x1="518.76" y1="149.4" x2="518.76" y2="157.4" stroke="#222" stroke-width="0.85" />
<line x1="532.18" y1="305.5" x2="532.18" y2="301.7" stroke="#222" stroke-width="0.85" />
<line x1="532.18" y1="149.4" x2="532.18" y2="153.2" stroke="#222" stroke-width="0.85" />
<line x1="545.6" y1="305.5" x2="545.6" y2="301.7" stroke="#222" stroke-width="0.85" />
<line x1="545.6" y1="149.4" x2="545.6" y2="153.2" stroke="#222" stroke-width="0.85" />
<line x1="559.02" y1="305.5" x2="559.02" y2="301.7" stroke="#222" stroke-width="0.85" />
<line x1="559.02" y1="149.4" x2="559.02" y2="153.2" stroke="#222" stroke-width="0.85" />
<line x1="572.44" y1="305.5" x2="572.44" y2="297.5" stroke="#222" stroke-width="0.85" />
<line x1="572.44" y1="149.4" x2="572.44" y2="157.4" stroke="#222" stroke-width="0.85" />
<line x1="585.86" y1="305.5" x2="585.86" y2="301.7" stroke="#222" stroke-width="0.85" />
<line x1="585.86" y1="149.4" x2="585.86" y2="153.2" stroke="#222" stroke-width="0.85" />
<line x1="599.28" y1="305.5" x2="599.28" y2="301.7" stroke="#222" stroke-width="0.85" />
<line x1="599.28" y1="149.4" x2="599.28" y2="153.2" stroke="#222" stroke-width="0.85" />
<line x1="612.7" y1="305.5" x2="612.7" y2="301.7" stroke="#222" stroke-width="0.85" />
<line x1="612.7" y1="149.4" x2="612.7" y2="153.2" stroke="#222" stroke-width="0.85" />
<line x1="626.12" y1="305.5" x2="626.12" y2="297.5" stroke="#222" stroke-width="0.85" />
<line x1="626.12" y1="149.4" x2="626.12" y2="157.4" stroke="#222" stroke-width="0.85" />
<line x1="639.54" y1="305.5" x2="639.54" y2="301.7" stroke="#222" stroke-width="0.85" />
<line x1="639.54" y1="149.4" x2="639.54" y2="153.2" stroke="#222" stroke-width="0.85" />
<line x1="652.96" y1="305.5" x2="652.96" y2="301.7" stroke="#222" stroke-width="0.85" />
<line x1="652.96" y1="149.4" x2="652.96" y2="153.2" stroke="#222" stroke-width="0.85" />
<line x1="666.38" y1="305.5" x2="666.38" y2="301.7" stroke="#222" stroke-width="0.85" />
<line x1="666.38" y1="149.4" x2="666.38" y2="153.2" stroke="#222" stroke-width="0.85" />
<line x1="411.4" y1="293.49" x2="415.2" y2="293.49" stroke="#222" stroke-width="0.85" />
<line x1="679.8" y1="293.49" x2="676" y2="293.49" stroke="#222" stroke-width="0.85" />
<line x1="411.4" y1="281.48" x2="419.4" y2="281.48" stroke="#222" stroke-width="0.85" />
<line x1="679.8" y1="281.48" x2="671.8" y2="281.48" stroke="#222" stroke-width="0.85" />
<line x1="411.4" y1="269.48" x2="415.2" y2="269.48" stroke="#222" stroke-width="0.85" />
<line x1="679.8" y1="269.48" x2="676" y2="269.48" stroke="#222" stroke-width="0.85" />
<line x1="411.4" y1="257.47" x2="419.4" y2="257.47" stroke="#222" stroke-width="0.85" />
<line x1="679.8" y1="257.47" x2="671.8" y2="257.47" stroke="#222" stroke-width="0.85" />
<line x1="411.4" y1="245.46" x2="415.2" y2="245.46" stroke="#222" stroke-width="0.85" />
<line x1="679.8" y1="245.46" x2="676" y2="245.46" stroke="#222" stroke-width="0.85" />
<line x1="411.4" y1="233.45" x2="419.4" y2="233.45" stroke="#222" stroke-width="0.85" />
<line x1="679.8" y1="233.45" x2="671.8" y2="233.45" stroke="#222" stroke-width="0.85" />
<line x1="411.4" y1="221.45" x2="415.2" y2="221.45" stroke="#222" stroke-width="0.85" />
<line x1="679.8" y1="221.45" x2="676" y2="221.45" stroke="#222" stroke-width="0.85" />
<line x1="411.4" y1="209.44" x2="419.4" y2="209.44" stroke="#222" stroke-width="0.85" />
<line x1="679.8" y1="209.44" x2="671.8" y2="209.44" stroke="#222" stroke-width="0.85" />
<line x1="411.4" y1="197.43" x2="415.2" y2="197.43" stroke="#222" stroke-width="0.85" />
<line x1="679.8" y1="197.43" x2="676" y2="197.43" stroke="#222" stroke-width="0.85" />
<line x1="411.4" y1="185.42" x2="419.4" y2="185.42" stroke="#222" stroke-width="0.85" />
<line x1="679.8" y1="185.42" x2="671.8" y2="185.42" stroke="#222" stroke-width="0.85" />
<line x1="411.4" y1="173.42" x2="415.2" y2="173.42" stroke="#222" stroke-width="0.85" />
<line x1="679.8" y1="173.42" x2="676" y2="173.42" stroke="#222" stroke-width="0.85" />
<line x1="411.4" y1="161.41" x2="419.4" y2="161.41" stroke="#222" stroke-width="0.85" />
<line x1="679.8" y1="161.41" x2="671.8" y2="161.41" stroke="#222" stroke-width="0.85" />
<text x="406.4" y="309.1" font-size="10.5" text-anchor="end" fill="#111" >0.0</text>
<text x="406.4" y="284.72" font-size="10.5" text-anchor="end" fill="#111" >0.2</text>
<text x="406.4" y="260.34" font-size="10.5" text-anchor="end" fill="#111" >0.4</text>
<text x="406.4" y="235.96" font-size="10.5" text-anchor="end" fill="#111" >0.6</text>
<text x="406.4" y="211.58" font-size="10.5" text-anchor="end" fill="#111" >0.8</text>
<text x="406.4" y="187.2" font-size="10.5" text-anchor="end" fill="#111" >1.0</text>
<text x="406.4" y="162.82" font-size="10.5" text-anchor="end" fill="#111" >1.2</text>
<text x="411.4" y="319" font-size="10.5" text-anchor="middle" fill="#111" >0</text>
<text x="465.08" y="319" font-size="10.5" text-anchor="middle" fill="#111" >2</text>
<text x="518.76" y="319" font-size="10.5" text-anchor="middle" fill="#111" >4</text>
<text x="572.44" y="319" font-size="10.5" text-anchor="middle" fill="#111" >6</text>
<text x="626.12" y="319" font-size="10.5" text-anchor="middle" fill="#111" >8</text>
<text x="679.8" y="319" font-size="10.5" text-anchor="middle" fill="#111" >10</text>
<text x="545.7" y="333.3" font-size="11.4" text-anchor="middle" fill="#111" >Time, <tspan font-style="italic">t</tspan> (s)</text>
<text transform="translate(368.6,226) rotate(-90)" font-size="11.4" text-anchor="middle" fill="#111">(Dimensionless)</text>
<text transform="translate(381.7,226.4) rotate(-90)" font-size="11.4" text-anchor="middle" fill="#111">Thermal transport data</text>
<line x1="413.25" y1="185.5" x2="679.8" y2="185.5" stroke="#111" stroke-width="0.95" stroke-dasharray="6.85 3.9"/>
<line x1="518.7" y1="172" x2="518.7" y2="291.5" stroke="#999" stroke-width="0.8" />
<line x1="532.1" y1="168.3" x2="532.1" y2="280.8" stroke="#999" stroke-width="0.8" />
<line x1="545.6" y1="174.9" x2="545.6" y2="295.1" stroke="#999" stroke-width="0.8" />
<polyline points="411.5,281.4 418,278.5 424,282 427,281 432,283.5 435,280.5 443,281.5 451.5,283 453.5,277 455.5,267.5 458.5,266.5 460,268 464,264.5 466,266 468,276 470.5,282 473,279 476,281.5 480,283.5 483,280.5 485,283 490,281.7 494,282 499,285.5 503.5,279.5 507,283.5 511,281.5 514,283.5 518,283 520,281.5 523,273 526,263.5 528,265 531,265.5 534,268.5 536,270 539,281 542,282.5 544.5,284.5 548,280 551,283 554,281.5 558,281 562,280 565,284 569,280.5 572,283 575,280 578,282 582,283 586,282 589,284 591,277 593,268 595,263.8 598,264.5 601.5,265.8 604,264 606.8,262.4 609,263.8 612,264.3 613.5,263.5 616,266 619,264.5 621.5,263 625,263.7 631,266.5 634,264.5 637,265 640,264.5 644,267.5 648,264 652,263 654,264.5 659,262 663,264 667,266 670,266.5 676,262 679.5,263" fill="none" stroke="#8080dc" stroke-width="1.6" stroke-linejoin="round"/>
<polyline points="411.4,191.7 414,196 417.7,206 420,199.5 423,194.5 426,196 428,193 430.5,190 433,193 435,194.5 437,192 440,193.5 443,191 446,191 449,189.5 451.5,190 452.3,200 453.5,220 455.2,240 458.5,244 461,240 463.7,253.5 466.5,235 467.5,220 469,200 471,195 473,199 476,192 480,188 483,192 486,189 490,194 494,190 498,196 501.9,198.3 505,190 508,194 511,188 514,192 517,190 519,196 521,210 523,235 525.5,251 526,255 529,250 533,240 535.5,225 537,205 540,195 545,184 548,190 551,195 554,188 557,193 560,190 563,196 566,187 569,193 572,190 575,195 578,189 581,196 584,189 587,187 589.4,188 590,200 591.5,220 592.4,232 595.5,254 600,249 603,252 606,253 608,257.5 611,252 613,250.5 616,248 619,254.5 623,255 625,254 628,251 630,245.5 633,249.5 635,247 637.5,253 641,248.5 643,250 645.5,242 648,249 651,250 653.5,254.5 656,249.5 659,257 661.5,259.5 664,253.5 668,252.5 670.5,245.5 674,255 676,259 677,255 679.5,250" fill="none" stroke="#e8202a" stroke-width="1.15" stroke-dasharray="2.6 1.5"/>
<polyline points="411.4,218 412.4,216.85 413.4,216.39 414.4,212.47 415.4,210.12 416.4,210.66 417.4,209.4 418.4,207.94 419.4,207.31 420.4,211.67 421.4,211.34 422.4,213.81 423.4,214.05 424.4,215.03 425.4,214.41 426.4,215.38 427.4,215.41 428.4,213.5 429.4,215.88 430.4,219.62 431.4,218.09 432.4,216.25 433.4,216.52 434.4,215.47 435.4,215.05 436.4,215.04 437.4,215.52 438.4,215.69 439.4,216.66 440.4,215.89 441.4,216.62 442.4,217.01 443.4,218.68 444.4,218.34 445.4,218.4 446.4,219.23 447.4,218.98 448.4,219.46 449.4,218.75 450.4,219.64 451.4,218.97 452,217.6" fill="none" stroke="#000" stroke-width="2.4" stroke-linejoin="round"/>
<polyline points="469.5,214.3 470.5,213.89 471.5,212.36 472.5,210.61 473.5,208.17 474.5,209.65 475.5,213.41 476.5,215.62 477.5,217.51 478.5,217.48 479.5,221.43 480.5,218.16 481.5,217.14 482.5,215.3 483.5,214.11 484.5,215.97 485.5,216.3 486.5,217.67 487.5,215.88 488.5,216.89 489.5,216.22 490.5,217.32 491.5,217.15 492.5,216.93 493.5,218.81 494.5,219.15 495.5,221.18 496.5,222.18 497.5,222.28 498.5,222.57 499.5,220.16 500.5,217.37 501.5,216 502.5,214.27 503.5,212.02 504.5,213.73 505.5,213.73 506.5,217.33 507.5,218.76 508.5,217.43 509.5,218.38 510.5,217.41 511.5,214.96 512.5,215.33 513.5,216.13 514.5,219.02 515.5,217.09 516.5,217.08 517.5,218.03 518.3,215.4" fill="none" stroke="#000" stroke-width="2.4" stroke-linejoin="round"/>
<polyline points="540,218 541,218.67 542,218.54 543,220.37 544,221.57 545,221.08 546,217.31 547,213.12 548,214.96 549,214.58 550,217.12 551,214.21 552,214.3 553,211.55 554,212.88 555,212.71 556,213.7 557,216.07 558,214.42 559,211.9 560,211.13 561,211.83 562,211.71 563,210.81 564,210.1 565,216.77 566,222.15 567,219.52 568,217.11 569,214.63 570,213.64 571,214.95 572,217.11 573,218.13 574,216.11 575,214.48 576,211.1 577,212.87 578,215.7 579,219.08 580,216.51 581,215.98 582,212.88 583,214.39 584,215.08 585,217.48 586,218.62 587,216.96 588,216.66 589,217.03 590,216.79 590.5,217" fill="none" stroke="#000" stroke-width="2.4" stroke-linejoin="round"/>
<polyline points="593,186 594,178.6 595,174.75 596,173.24 597,173.54 598,173.31 599,174.51 600,174.65 601,174.9 602,172.94 603,175.47 604,178.65 605,175.53 606,174.15 607,174.48 608,175.09 609,173.22 610,173.35 611,173.49 612,173.66 613,177.34 614,175.06 615,175.68 616,176.89 617,178.84 618,178.03 619,177.53 620,176.13 621,172.96 622,172.98 623,172.36 624,172.51 625,171.57 626,173.75 627,174.98 628,176.97 629,176.36 630,178.38 631,179.11 632,176.66 633,175.77 634,174.23 635,176.44 636,173.97 637,176.57 638,176.01 639,177.71 640,179.46 641,178.73 642,180.02 643,179.74 644,180.58 645,177.99 646,176.51 647,173.43 648,172.76 649,173.85 650,171.83 651,173.27 652,175.3 653,175.37 654,172.6 655,167.32 656,169.93 657,171.1 658,173.4 659,172.57 660,174.33 661,174.75 662,174.82 663,175.11 664,175.86 665,173.49 666,177.32 667,176.97 668,177.94 669,178.24 670,175.18 671,173.88 672,172.89 673,172.41 674,169.41 675,167.99 676,172.34 677,172.47 678,177.37 679,175.88 679.5,176" fill="none" stroke="#000" stroke-width="2.4" stroke-linejoin="round"/>
<polyline points="453.8,186 455,182 457,179.8 458.8,181 461,177 463,173.2 464.8,175.6 466,181 467.1,185.7" fill="none" stroke="#000" stroke-width="2.4" stroke-linejoin="round"/>
<polyline points="522.5,186 524,178 525.7,171.9 527,175 530,177 531.9,182" fill="none" stroke="#000" stroke-width="2.4" stroke-linejoin="round"/>
<polyline points="452,217.6 453.8,186" fill="none" stroke="#000" stroke-width="1.7" stroke-dasharray="1.1 1.3"/>
<polyline points="467.1,185.7 469.5,214.3" fill="none" stroke="#000" stroke-width="1.7" stroke-dasharray="1.1 1.3"/>
<polyline points="518.3,215.4 522.5,186" fill="none" stroke="#000" stroke-width="1.7" stroke-dasharray="1.1 1.3"/>
<polyline points="533,185 536,205 540,218" fill="none" stroke="#000" stroke-width="1.7" stroke-dasharray="1.1 1.3"/>
<polyline points="590.5,217 593,186" fill="none" stroke="#000" stroke-width="1.7" stroke-dasharray="1.1 1.3"/>
<circle cx="518.3" cy="215.4" r="3" fill="#e8141c" stroke="#8a0a0a" stroke-width="0.5"/>
<circle cx="531.9" cy="182" r="3.1" fill="#5de05d" stroke="#2a7a2a" stroke-width="0.5"/>
<circle cx="545" cy="222.1" r="3.1" fill="#e020e0" stroke="#701070" stroke-width="0.5"/>
<rect x="411.4" y="149.4" width="268.6" height="156.1" fill="none" stroke="#222" stroke-width="0.9"/>
<text x="475" y="172.6" font-size="9.2" font-style="italic" fill="#222">h<tspan font-size="6.2" font-style="normal" dy="2.3">ω</tspan><tspan font-style="normal" dy="-2.3">/</tspan>h<tspan font-size="6.2" font-style="normal" dy="2.9">0</tspan><tspan font-size="6.2" font-style="normal" dx="-3.4" dy="-6.3">scw</tspan></text>
<line x1="468.6" y1="176.7" x2="472.2" y2="173.1" stroke="#111" stroke-width="1.1" />
<text x="616.8" y="215.3" font-size="10.4" fill="#e03030">Δ<tspan font-style="italic">T</tspan><tspan font-size="6.9" dy="2.6">w</tspan></text>
<line x1="606.9" y1="221.2" x2="641.7" y2="221.2" stroke="#e03030" stroke-width="1" />
<text x="607.9" y="230.6" font-size="10.4" fill="#e03030">Δ<tspan font-style="italic">T</tspan><tspan font-size="6.9" dy="2.6">w,ONB</tspan></text>
<line x1="604.3" y1="243.7" x2="609.6" y2="235.4" stroke="#e03030" stroke-width="0.8" />
<text x="485.6" y="253" font-size="10" font-style="italic" fill="#4040c8">q<tspan font-size="6.4" font-style="normal" dx="-0.6" dy="2">l</tspan><tspan font-size="6.4" font-style="normal" dx="-1.2" dy="-4.6">″</tspan></text>
<line x1="481.9" y1="258.1" x2="498.6" y2="258.1" stroke="#7070d0" stroke-width="1.1" />
<text x="482.6" y="267.9" font-size="10" font-style="italic" fill="#4040c8">q<tspan font-size="6.6" font-style="normal" dy="2.6">net</tspan><tspan font-size="6.4" font-style="normal" dx="-8.8" dy="-5">″</tspan></text>
<line x1="471.2" y1="271.5" x2="478.3" y2="263.8" stroke="#4040c8" stroke-width="0.9" />
</svg>
</body></html>
